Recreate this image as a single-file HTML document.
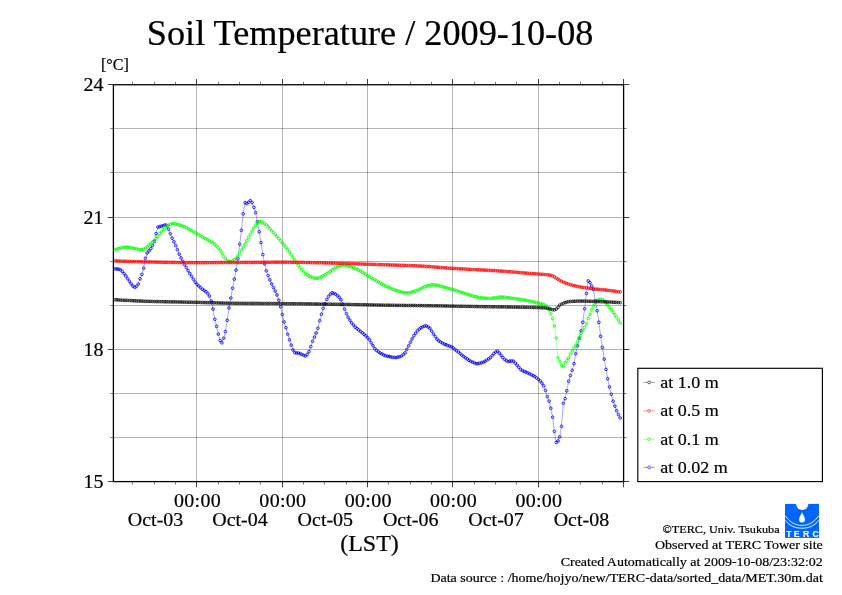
<!DOCTYPE html>
<html lang="en">
<head>
<meta charset="utf-8">
<title>Soil Temperature / 2009-10-08</title>
<style>
html, body { margin: 0; padding: 0; background: #fff; }
body { width: 842px; height: 595px; overflow: hidden; }
svg { display: block; font-family: "Liberation Serif", serif; fill: #000; }
svg text { stroke: #000; stroke-width: 0.22px; }
</style>
</head>
<body>
<svg width="842" height="595" viewBox="0 0 842 595">
<rect x="0" y="0" width="842" height="595" fill="#fff"/>
<g stroke="#000" stroke-opacity="0.29" stroke-width="1" shape-rendering="crispEdges">
<line x1="196.5" y1="84.75" x2="196.5" y2="481.6"/>
<line x1="282.5" y1="84.75" x2="282.5" y2="481.6"/>
<line x1="367.5" y1="84.75" x2="367.5" y2="481.6"/>
<line x1="452.5" y1="84.75" x2="452.5" y2="481.6"/>
<line x1="538.5" y1="84.75" x2="538.5" y2="481.6"/>
<line x1="113.4" y1="437.5" x2="623.6" y2="437.5"/>
<line x1="113.4" y1="393.5" x2="623.6" y2="393.5"/>
<line x1="113.4" y1="349.5" x2="623.6" y2="349.5"/>
<line x1="113.4" y1="305.5" x2="623.6" y2="305.5"/>
<line x1="113.4" y1="261.5" x2="623.6" y2="261.5"/>
<line x1="113.4" y1="217.5" x2="623.6" y2="217.5"/>
<line x1="113.4" y1="172.5" x2="623.6" y2="172.5"/>
<line x1="113.4" y1="128.5" x2="623.6" y2="128.5"/>
</g>
<g stroke="#000" stroke-width="0.75">
<line x1="132.5" y1="84.75" x2="132.5" y2="81.75" stroke-width="0.5"/>
<line x1="132.5" y1="481.6" x2="132.5" y2="484.6" stroke-width="0.5"/>
<line x1="154.5" y1="84.75" x2="154.5" y2="81.75" stroke-width="0.5"/>
<line x1="154.5" y1="481.6" x2="154.5" y2="484.6" stroke-width="0.5"/>
<line x1="175.5" y1="84.75" x2="175.5" y2="81.75" stroke-width="0.5"/>
<line x1="175.5" y1="481.6" x2="175.5" y2="484.6" stroke-width="0.5"/>
<line x1="196.5" y1="84.75" x2="196.5" y2="79.05"/>
<line x1="196.5" y1="481.6" x2="196.5" y2="487.3"/>
<line x1="218.5" y1="84.75" x2="218.5" y2="81.75" stroke-width="0.5"/>
<line x1="218.5" y1="481.6" x2="218.5" y2="484.6" stroke-width="0.5"/>
<line x1="239.5" y1="84.75" x2="239.5" y2="81.75" stroke-width="0.5"/>
<line x1="239.5" y1="481.6" x2="239.5" y2="484.6" stroke-width="0.5"/>
<line x1="260.5" y1="84.75" x2="260.5" y2="81.75" stroke-width="0.5"/>
<line x1="260.5" y1="481.6" x2="260.5" y2="484.6" stroke-width="0.5"/>
<line x1="282.5" y1="84.75" x2="282.5" y2="79.05"/>
<line x1="282.5" y1="481.6" x2="282.5" y2="487.3"/>
<line x1="303.5" y1="84.75" x2="303.5" y2="81.75" stroke-width="0.5"/>
<line x1="303.5" y1="481.6" x2="303.5" y2="484.6" stroke-width="0.5"/>
<line x1="324.5" y1="84.75" x2="324.5" y2="81.75" stroke-width="0.5"/>
<line x1="324.5" y1="481.6" x2="324.5" y2="484.6" stroke-width="0.5"/>
<line x1="346.5" y1="84.75" x2="346.5" y2="81.75" stroke-width="0.5"/>
<line x1="346.5" y1="481.6" x2="346.5" y2="484.6" stroke-width="0.5"/>
<line x1="367.5" y1="84.75" x2="367.5" y2="79.05"/>
<line x1="367.5" y1="481.6" x2="367.5" y2="487.3"/>
<line x1="388.5" y1="84.75" x2="388.5" y2="81.75" stroke-width="0.5"/>
<line x1="388.5" y1="481.6" x2="388.5" y2="484.6" stroke-width="0.5"/>
<line x1="410.5" y1="84.75" x2="410.5" y2="81.75" stroke-width="0.5"/>
<line x1="410.5" y1="481.6" x2="410.5" y2="484.6" stroke-width="0.5"/>
<line x1="431.5" y1="84.75" x2="431.5" y2="81.75" stroke-width="0.5"/>
<line x1="431.5" y1="481.6" x2="431.5" y2="484.6" stroke-width="0.5"/>
<line x1="452.5" y1="84.75" x2="452.5" y2="79.05"/>
<line x1="452.5" y1="481.6" x2="452.5" y2="487.3"/>
<line x1="474.5" y1="84.75" x2="474.5" y2="81.75" stroke-width="0.5"/>
<line x1="474.5" y1="481.6" x2="474.5" y2="484.6" stroke-width="0.5"/>
<line x1="495.5" y1="84.75" x2="495.5" y2="81.75" stroke-width="0.5"/>
<line x1="495.5" y1="481.6" x2="495.5" y2="484.6" stroke-width="0.5"/>
<line x1="516.5" y1="84.75" x2="516.5" y2="81.75" stroke-width="0.5"/>
<line x1="516.5" y1="481.6" x2="516.5" y2="484.6" stroke-width="0.5"/>
<line x1="538.5" y1="84.75" x2="538.5" y2="79.05"/>
<line x1="538.5" y1="481.6" x2="538.5" y2="487.3"/>
<line x1="559.5" y1="84.75" x2="559.5" y2="81.75" stroke-width="0.5"/>
<line x1="559.5" y1="481.6" x2="559.5" y2="484.6" stroke-width="0.5"/>
<line x1="580.5" y1="84.75" x2="580.5" y2="81.75" stroke-width="0.5"/>
<line x1="580.5" y1="481.6" x2="580.5" y2="484.6" stroke-width="0.5"/>
<line x1="602.5" y1="84.75" x2="602.5" y2="81.75" stroke-width="0.5"/>
<line x1="602.5" y1="481.6" x2="602.5" y2="484.6" stroke-width="0.5"/>
<line x1="623.5" y1="84.75" x2="623.5" y2="79.05"/>
<line x1="623.5" y1="481.6" x2="623.5" y2="487.3"/>
<line x1="113.4" y1="481.5" x2="107.7" y2="481.5"/>
<line x1="623.6" y1="481.5" x2="629.3000000000001" y2="481.5"/>
<line x1="113.4" y1="437.5" x2="110.4" y2="437.5" stroke-width="0.5"/>
<line x1="623.6" y1="437.5" x2="626.6" y2="437.5" stroke-width="0.5"/>
<line x1="113.4" y1="393.5" x2="110.4" y2="393.5" stroke-width="0.5"/>
<line x1="623.6" y1="393.5" x2="626.6" y2="393.5" stroke-width="0.5"/>
<line x1="113.4" y1="349.5" x2="107.7" y2="349.5"/>
<line x1="623.6" y1="349.5" x2="629.3000000000001" y2="349.5"/>
<line x1="113.4" y1="305.5" x2="110.4" y2="305.5" stroke-width="0.5"/>
<line x1="623.6" y1="305.5" x2="626.6" y2="305.5" stroke-width="0.5"/>
<line x1="113.4" y1="261.5" x2="110.4" y2="261.5" stroke-width="0.5"/>
<line x1="623.6" y1="261.5" x2="626.6" y2="261.5" stroke-width="0.5"/>
<line x1="113.4" y1="217.5" x2="107.7" y2="217.5"/>
<line x1="623.6" y1="217.5" x2="629.3000000000001" y2="217.5"/>
<line x1="113.4" y1="172.5" x2="110.4" y2="172.5" stroke-width="0.5"/>
<line x1="623.6" y1="172.5" x2="626.6" y2="172.5" stroke-width="0.5"/>
<line x1="113.4" y1="128.5" x2="110.4" y2="128.5" stroke-width="0.5"/>
<line x1="623.6" y1="128.5" x2="626.6" y2="128.5" stroke-width="0.5"/>
<line x1="113.4" y1="84.5" x2="107.7" y2="84.5"/>
<line x1="623.6" y1="84.5" x2="629.3000000000001" y2="84.5"/>
</g>
<g stroke="#0000ff" fill="none">
<polyline points="115.2,268.9 117.0,269.0 118.8,269.2 120.5,269.8 122.3,271.5 124.1,273.6 125.9,276.0 127.6,278.6 129.4,281.2 131.2,283.9 133.0,286.1 134.8,287.5 136.5,286.3 138.3,284.1 140.1,278.8 141.9,274.4 143.7,268.3 145.4,258.2 147.2,253.0 149.0,250.9 150.8,248.7 152.5,245.5 154.3,241.5 156.1,233.6 157.9,227.1 159.7,226.6 161.4,226.2 163.2,225.7 165.0,225.0 166.8,225.4 168.5,229.2 170.3,233.7 172.1,238.2 173.9,241.9 175.7,245.6 177.4,249.7 179.2,254.1 181.0,257.9 182.8,261.4 184.5,264.6 186.3,267.6 188.1,270.7 189.9,273.6 191.7,276.4 193.4,279.3 195.2,282.2 197.0,284.4 198.8,286.0 200.6,287.7 202.3,289.2 204.1,290.4 205.9,291.6 207.7,293.4 209.4,296.1 211.2,301.0 213.0,309.0 214.8,319.3 216.6,326.4 218.3,334.1 220.1,340.5 221.9,342.8 223.7,338.2 225.4,331.6 227.2,320.2 229.0,307.9 230.8,298.0 232.6,288.2 234.3,279.1 236.1,270.1 237.9,258.7 239.7,244.3 241.4,230.3 243.2,213.8 245.0,202.6 246.8,203.7 248.6,202.2 250.3,200.6 252.1,202.6 253.9,207.3 255.7,212.6 257.4,221.8 259.2,231.8 261.0,242.6 262.8,254.6 264.6,263.7 266.3,270.8 268.1,275.6 269.9,279.9 271.7,284.0 273.5,287.6 275.2,291.1 277.0,294.9 278.8,300.2 280.6,306.8 282.3,314.5 284.1,322.0 285.9,327.7 287.7,334.2 289.5,339.8 291.2,345.1 293.0,350.0 294.8,352.7 296.6,353.0 298.3,353.0 300.1,353.6 301.9,354.5 303.7,355.3 305.5,356.1 307.2,354.4 309.0,351.6 310.8,346.6 312.6,341.3 314.4,337.1 316.1,333.0 317.9,328.2 319.7,320.7 321.5,314.2 323.2,308.4 325.0,304.0 326.8,299.5 328.6,296.4 330.4,294.1 332.1,292.8 333.9,293.4 335.7,294.2 337.5,295.7 339.2,297.3 341.0,299.9 342.8,304.3 344.6,309.2 346.4,313.6 348.1,317.2 349.9,320.2 351.7,322.9 353.5,325.1 355.2,327.2 357.0,328.6 358.8,330.0 360.6,331.5 362.4,332.9 364.1,334.3 365.9,335.9 367.7,337.7 369.5,339.8 371.2,342.8 373.0,345.7 374.8,348.7 376.6,350.3 378.4,351.9 380.1,353.0 381.9,354.0 383.7,354.9 385.5,355.7 387.3,356.1 389.0,356.5 390.8,356.9 392.6,357.3 394.4,357.4 396.1,357.6 397.9,357.1 399.7,356.7 401.5,356.0 403.3,354.5 405.0,352.9 406.8,349.4 408.6,345.8 410.4,342.3 412.1,338.9 413.9,335.7 415.7,333.2 417.5,330.7 419.3,329.1 421.0,327.7 422.8,326.7 424.6,326.1 426.4,325.8 428.1,327.0 429.9,328.2 431.7,331.1 433.5,334.1 435.3,336.7 437.0,339.1 438.8,340.9 440.6,342.0 442.4,343.0 444.2,344.1 445.9,344.7 447.7,345.4 449.5,346.1 451.3,346.7 453.0,347.8 454.8,349.3 456.6,350.7 458.4,352.1 460.2,353.6 461.9,355.1 463.7,356.5 465.5,357.8 467.3,359.0 469.0,360.3 470.8,361.4 472.6,362.1 474.4,362.9 476.2,363.6 477.9,363.7 479.7,363.2 481.5,362.7 483.3,362.2 485.0,361.3 486.8,360.1 488.6,358.9 490.4,357.6 492.2,355.6 493.9,353.6 495.7,352.0 497.5,351.1 499.3,353.1 501.1,355.3 502.8,357.5 504.6,359.4 506.4,360.6 508.2,361.6 509.9,361.2 511.7,360.9 513.5,361.2 515.3,363.1 517.1,365.1 518.8,367.3 520.6,369.5 522.4,370.6 524.2,371.4 525.9,372.1 527.7,372.9 529.5,373.8 531.3,374.7 533.1,375.6 534.8,376.5 536.6,377.9 538.4,379.4 540.2,380.9 542.0,383.1 543.7,385.9 545.5,390.4 547.3,396.7 549.1,401.2 550.8,408.2 552.6,417.2 554.4,431.3 556.2,442.5 558.0,441.0 559.7,436.9 561.5,426.3 563.3,403.2 565.1,398.7 566.8,390.8 568.6,381.3 570.4,375.5 572.2,370.3 574.0,363.7 575.7,353.7 577.5,345.8 579.3,338.4 581.1,330.9 582.8,322.2 584.6,308.8 586.4,293.5 588.2,280.9 590.0,282.6 591.7,286.1 593.5,289.5 595.3,300.9 597.1,310.8 598.9,322.3 600.6,336.2 602.4,347.4 604.2,359.1 606.0,369.4 607.7,378.7 609.5,386.9 611.3,394.4 613.1,401.2 614.9,406.1 616.6,410.7 618.4,414.6 620.2,418.0" stroke-width="0.35"/>
<g stroke-width="0.8">
<circle cx="115.2" cy="268.9" r="1.35"/><circle cx="117.0" cy="269.0" r="1.35"/><circle cx="118.8" cy="269.2" r="1.35"/><circle cx="120.5" cy="269.8" r="1.35"/><circle cx="122.3" cy="271.5" r="1.35"/><circle cx="124.1" cy="273.6" r="1.35"/><circle cx="125.9" cy="276.0" r="1.35"/><circle cx="127.6" cy="278.6" r="1.35"/><circle cx="129.4" cy="281.2" r="1.35"/><circle cx="131.2" cy="283.9" r="1.35"/><circle cx="133.0" cy="286.1" r="1.35"/><circle cx="134.8" cy="287.5" r="1.35"/><circle cx="136.5" cy="286.3" r="1.35"/><circle cx="138.3" cy="284.1" r="1.35"/><circle cx="140.1" cy="278.8" r="1.35"/><circle cx="141.9" cy="274.4" r="1.35"/><circle cx="143.7" cy="268.3" r="1.35"/><circle cx="145.4" cy="258.2" r="1.35"/><circle cx="147.2" cy="253.0" r="1.35"/><circle cx="149.0" cy="250.9" r="1.35"/><circle cx="150.8" cy="248.7" r="1.35"/><circle cx="152.5" cy="245.5" r="1.35"/><circle cx="154.3" cy="241.5" r="1.35"/><circle cx="156.1" cy="233.6" r="1.35"/><circle cx="157.9" cy="227.1" r="1.35"/><circle cx="159.7" cy="226.6" r="1.35"/><circle cx="161.4" cy="226.2" r="1.35"/><circle cx="163.2" cy="225.7" r="1.35"/><circle cx="165.0" cy="225.0" r="1.35"/><circle cx="166.8" cy="225.4" r="1.35"/><circle cx="168.5" cy="229.2" r="1.35"/><circle cx="170.3" cy="233.7" r="1.35"/><circle cx="172.1" cy="238.2" r="1.35"/><circle cx="173.9" cy="241.9" r="1.35"/><circle cx="175.7" cy="245.6" r="1.35"/><circle cx="177.4" cy="249.7" r="1.35"/><circle cx="179.2" cy="254.1" r="1.35"/><circle cx="181.0" cy="257.9" r="1.35"/><circle cx="182.8" cy="261.4" r="1.35"/><circle cx="184.5" cy="264.6" r="1.35"/><circle cx="186.3" cy="267.6" r="1.35"/><circle cx="188.1" cy="270.7" r="1.35"/><circle cx="189.9" cy="273.6" r="1.35"/><circle cx="191.7" cy="276.4" r="1.35"/><circle cx="193.4" cy="279.3" r="1.35"/><circle cx="195.2" cy="282.2" r="1.35"/><circle cx="197.0" cy="284.4" r="1.35"/><circle cx="198.8" cy="286.0" r="1.35"/><circle cx="200.6" cy="287.7" r="1.35"/><circle cx="202.3" cy="289.2" r="1.35"/><circle cx="204.1" cy="290.4" r="1.35"/><circle cx="205.9" cy="291.6" r="1.35"/><circle cx="207.7" cy="293.4" r="1.35"/><circle cx="209.4" cy="296.1" r="1.35"/><circle cx="211.2" cy="301.0" r="1.35"/><circle cx="213.0" cy="309.0" r="1.35"/><circle cx="214.8" cy="319.3" r="1.35"/><circle cx="216.6" cy="326.4" r="1.35"/><circle cx="218.3" cy="334.1" r="1.35"/><circle cx="220.1" cy="340.5" r="1.35"/><circle cx="221.9" cy="342.8" r="1.35"/><circle cx="223.7" cy="338.2" r="1.35"/><circle cx="225.4" cy="331.6" r="1.35"/><circle cx="227.2" cy="320.2" r="1.35"/><circle cx="229.0" cy="307.9" r="1.35"/><circle cx="230.8" cy="298.0" r="1.35"/><circle cx="232.6" cy="288.2" r="1.35"/><circle cx="234.3" cy="279.1" r="1.35"/><circle cx="236.1" cy="270.1" r="1.35"/><circle cx="237.9" cy="258.7" r="1.35"/><circle cx="239.7" cy="244.3" r="1.35"/><circle cx="241.4" cy="230.3" r="1.35"/><circle cx="243.2" cy="213.8" r="1.35"/><circle cx="245.0" cy="202.6" r="1.35"/><circle cx="246.8" cy="203.7" r="1.35"/><circle cx="248.6" cy="202.2" r="1.35"/><circle cx="250.3" cy="200.6" r="1.35"/><circle cx="252.1" cy="202.6" r="1.35"/><circle cx="253.9" cy="207.3" r="1.35"/><circle cx="255.7" cy="212.6" r="1.35"/><circle cx="257.4" cy="221.8" r="1.35"/><circle cx="259.2" cy="231.8" r="1.35"/><circle cx="261.0" cy="242.6" r="1.35"/><circle cx="262.8" cy="254.6" r="1.35"/><circle cx="264.6" cy="263.7" r="1.35"/><circle cx="266.3" cy="270.8" r="1.35"/><circle cx="268.1" cy="275.6" r="1.35"/><circle cx="269.9" cy="279.9" r="1.35"/><circle cx="271.7" cy="284.0" r="1.35"/><circle cx="273.5" cy="287.6" r="1.35"/><circle cx="275.2" cy="291.1" r="1.35"/><circle cx="277.0" cy="294.9" r="1.35"/><circle cx="278.8" cy="300.2" r="1.35"/><circle cx="280.6" cy="306.8" r="1.35"/><circle cx="282.3" cy="314.5" r="1.35"/><circle cx="284.1" cy="322.0" r="1.35"/><circle cx="285.9" cy="327.7" r="1.35"/><circle cx="287.7" cy="334.2" r="1.35"/><circle cx="289.5" cy="339.8" r="1.35"/><circle cx="291.2" cy="345.1" r="1.35"/><circle cx="293.0" cy="350.0" r="1.35"/><circle cx="294.8" cy="352.7" r="1.35"/><circle cx="296.6" cy="353.0" r="1.35"/><circle cx="298.3" cy="353.0" r="1.35"/><circle cx="300.1" cy="353.6" r="1.35"/><circle cx="301.9" cy="354.5" r="1.35"/><circle cx="303.7" cy="355.3" r="1.35"/><circle cx="305.5" cy="356.1" r="1.35"/><circle cx="307.2" cy="354.4" r="1.35"/><circle cx="309.0" cy="351.6" r="1.35"/><circle cx="310.8" cy="346.6" r="1.35"/><circle cx="312.6" cy="341.3" r="1.35"/><circle cx="314.4" cy="337.1" r="1.35"/><circle cx="316.1" cy="333.0" r="1.35"/><circle cx="317.9" cy="328.2" r="1.35"/><circle cx="319.7" cy="320.7" r="1.35"/><circle cx="321.5" cy="314.2" r="1.35"/><circle cx="323.2" cy="308.4" r="1.35"/><circle cx="325.0" cy="304.0" r="1.35"/><circle cx="326.8" cy="299.5" r="1.35"/><circle cx="328.6" cy="296.4" r="1.35"/><circle cx="330.4" cy="294.1" r="1.35"/><circle cx="332.1" cy="292.8" r="1.35"/><circle cx="333.9" cy="293.4" r="1.35"/><circle cx="335.7" cy="294.2" r="1.35"/><circle cx="337.5" cy="295.7" r="1.35"/><circle cx="339.2" cy="297.3" r="1.35"/><circle cx="341.0" cy="299.9" r="1.35"/><circle cx="342.8" cy="304.3" r="1.35"/><circle cx="344.6" cy="309.2" r="1.35"/><circle cx="346.4" cy="313.6" r="1.35"/><circle cx="348.1" cy="317.2" r="1.35"/><circle cx="349.9" cy="320.2" r="1.35"/><circle cx="351.7" cy="322.9" r="1.35"/><circle cx="353.5" cy="325.1" r="1.35"/><circle cx="355.2" cy="327.2" r="1.35"/><circle cx="357.0" cy="328.6" r="1.35"/><circle cx="358.8" cy="330.0" r="1.35"/><circle cx="360.6" cy="331.5" r="1.35"/><circle cx="362.4" cy="332.9" r="1.35"/><circle cx="364.1" cy="334.3" r="1.35"/><circle cx="365.9" cy="335.9" r="1.35"/><circle cx="367.7" cy="337.7" r="1.35"/><circle cx="369.5" cy="339.8" r="1.35"/><circle cx="371.2" cy="342.8" r="1.35"/><circle cx="373.0" cy="345.7" r="1.35"/><circle cx="374.8" cy="348.7" r="1.35"/><circle cx="376.6" cy="350.3" r="1.35"/><circle cx="378.4" cy="351.9" r="1.35"/><circle cx="380.1" cy="353.0" r="1.35"/><circle cx="381.9" cy="354.0" r="1.35"/><circle cx="383.7" cy="354.9" r="1.35"/><circle cx="385.5" cy="355.7" r="1.35"/><circle cx="387.3" cy="356.1" r="1.35"/><circle cx="389.0" cy="356.5" r="1.35"/><circle cx="390.8" cy="356.9" r="1.35"/><circle cx="392.6" cy="357.3" r="1.35"/><circle cx="394.4" cy="357.4" r="1.35"/><circle cx="396.1" cy="357.6" r="1.35"/><circle cx="397.9" cy="357.1" r="1.35"/><circle cx="399.7" cy="356.7" r="1.35"/><circle cx="401.5" cy="356.0" r="1.35"/><circle cx="403.3" cy="354.5" r="1.35"/><circle cx="405.0" cy="352.9" r="1.35"/><circle cx="406.8" cy="349.4" r="1.35"/><circle cx="408.6" cy="345.8" r="1.35"/><circle cx="410.4" cy="342.3" r="1.35"/><circle cx="412.1" cy="338.9" r="1.35"/><circle cx="413.9" cy="335.7" r="1.35"/><circle cx="415.7" cy="333.2" r="1.35"/><circle cx="417.5" cy="330.7" r="1.35"/><circle cx="419.3" cy="329.1" r="1.35"/><circle cx="421.0" cy="327.7" r="1.35"/><circle cx="422.8" cy="326.7" r="1.35"/><circle cx="424.6" cy="326.1" r="1.35"/><circle cx="426.4" cy="325.8" r="1.35"/><circle cx="428.1" cy="327.0" r="1.35"/><circle cx="429.9" cy="328.2" r="1.35"/><circle cx="431.7" cy="331.1" r="1.35"/><circle cx="433.5" cy="334.1" r="1.35"/><circle cx="435.3" cy="336.7" r="1.35"/><circle cx="437.0" cy="339.1" r="1.35"/><circle cx="438.8" cy="340.9" r="1.35"/><circle cx="440.6" cy="342.0" r="1.35"/><circle cx="442.4" cy="343.0" r="1.35"/><circle cx="444.2" cy="344.1" r="1.35"/><circle cx="445.9" cy="344.7" r="1.35"/><circle cx="447.7" cy="345.4" r="1.35"/><circle cx="449.5" cy="346.1" r="1.35"/><circle cx="451.3" cy="346.7" r="1.35"/><circle cx="453.0" cy="347.8" r="1.35"/><circle cx="454.8" cy="349.3" r="1.35"/><circle cx="456.6" cy="350.7" r="1.35"/><circle cx="458.4" cy="352.1" r="1.35"/><circle cx="460.2" cy="353.6" r="1.35"/><circle cx="461.9" cy="355.1" r="1.35"/><circle cx="463.7" cy="356.5" r="1.35"/><circle cx="465.5" cy="357.8" r="1.35"/><circle cx="467.3" cy="359.0" r="1.35"/><circle cx="469.0" cy="360.3" r="1.35"/><circle cx="470.8" cy="361.4" r="1.35"/><circle cx="472.6" cy="362.1" r="1.35"/><circle cx="474.4" cy="362.9" r="1.35"/><circle cx="476.2" cy="363.6" r="1.35"/><circle cx="477.9" cy="363.7" r="1.35"/><circle cx="479.7" cy="363.2" r="1.35"/><circle cx="481.5" cy="362.7" r="1.35"/><circle cx="483.3" cy="362.2" r="1.35"/><circle cx="485.0" cy="361.3" r="1.35"/><circle cx="486.8" cy="360.1" r="1.35"/><circle cx="488.6" cy="358.9" r="1.35"/><circle cx="490.4" cy="357.6" r="1.35"/><circle cx="492.2" cy="355.6" r="1.35"/><circle cx="493.9" cy="353.6" r="1.35"/><circle cx="495.7" cy="352.0" r="1.35"/><circle cx="497.5" cy="351.1" r="1.35"/><circle cx="499.3" cy="353.1" r="1.35"/><circle cx="501.1" cy="355.3" r="1.35"/><circle cx="502.8" cy="357.5" r="1.35"/><circle cx="504.6" cy="359.4" r="1.35"/><circle cx="506.4" cy="360.6" r="1.35"/><circle cx="508.2" cy="361.6" r="1.35"/><circle cx="509.9" cy="361.2" r="1.35"/><circle cx="511.7" cy="360.9" r="1.35"/><circle cx="513.5" cy="361.2" r="1.35"/><circle cx="515.3" cy="363.1" r="1.35"/><circle cx="517.1" cy="365.1" r="1.35"/><circle cx="518.8" cy="367.3" r="1.35"/><circle cx="520.6" cy="369.5" r="1.35"/><circle cx="522.4" cy="370.6" r="1.35"/><circle cx="524.2" cy="371.4" r="1.35"/><circle cx="525.9" cy="372.1" r="1.35"/><circle cx="527.7" cy="372.9" r="1.35"/><circle cx="529.5" cy="373.8" r="1.35"/><circle cx="531.3" cy="374.7" r="1.35"/><circle cx="533.1" cy="375.6" r="1.35"/><circle cx="534.8" cy="376.5" r="1.35"/><circle cx="536.6" cy="377.9" r="1.35"/><circle cx="538.4" cy="379.4" r="1.35"/><circle cx="540.2" cy="380.9" r="1.35"/><circle cx="542.0" cy="383.1" r="1.35"/><circle cx="543.7" cy="385.9" r="1.35"/><circle cx="545.5" cy="390.4" r="1.35"/><circle cx="547.3" cy="396.7" r="1.35"/><circle cx="549.1" cy="401.2" r="1.35"/><circle cx="550.8" cy="408.2" r="1.35"/><circle cx="552.6" cy="417.2" r="1.35"/><circle cx="554.4" cy="431.3" r="1.35"/><circle cx="556.2" cy="442.5" r="1.35"/><circle cx="558.0" cy="441.0" r="1.35"/><circle cx="559.7" cy="436.9" r="1.35"/><circle cx="561.5" cy="426.3" r="1.35"/><circle cx="563.3" cy="403.2" r="1.35"/><circle cx="565.1" cy="398.7" r="1.35"/><circle cx="566.8" cy="390.8" r="1.35"/><circle cx="568.6" cy="381.3" r="1.35"/><circle cx="570.4" cy="375.5" r="1.35"/><circle cx="572.2" cy="370.3" r="1.35"/><circle cx="574.0" cy="363.7" r="1.35"/><circle cx="575.7" cy="353.7" r="1.35"/><circle cx="577.5" cy="345.8" r="1.35"/><circle cx="579.3" cy="338.4" r="1.35"/><circle cx="581.1" cy="330.9" r="1.35"/><circle cx="582.8" cy="322.2" r="1.35"/><circle cx="584.6" cy="308.8" r="1.35"/><circle cx="586.4" cy="293.5" r="1.35"/><circle cx="588.2" cy="280.9" r="1.35"/><circle cx="590.0" cy="282.6" r="1.35"/><circle cx="591.7" cy="286.1" r="1.35"/><circle cx="593.5" cy="289.5" r="1.35"/><circle cx="595.3" cy="300.9" r="1.35"/><circle cx="597.1" cy="310.8" r="1.35"/><circle cx="598.9" cy="322.3" r="1.35"/><circle cx="600.6" cy="336.2" r="1.35"/><circle cx="602.4" cy="347.4" r="1.35"/><circle cx="604.2" cy="359.1" r="1.35"/><circle cx="606.0" cy="369.4" r="1.35"/><circle cx="607.7" cy="378.7" r="1.35"/><circle cx="609.5" cy="386.9" r="1.35"/><circle cx="611.3" cy="394.4" r="1.35"/><circle cx="613.1" cy="401.2" r="1.35"/><circle cx="614.9" cy="406.1" r="1.35"/><circle cx="616.6" cy="410.7" r="1.35"/><circle cx="618.4" cy="414.6" r="1.35"/><circle cx="620.2" cy="418.0" r="1.35"/>
</g></g>
<g stroke="#00ff00" fill="none">
<polyline points="115.2,249.6 117.0,249.0 118.8,248.5 120.5,248.1 122.3,247.7 124.1,247.4 125.9,247.1 127.6,247.1 129.4,247.3 131.2,247.7 133.0,248.1 134.8,248.5 136.5,248.9 138.3,249.4 140.1,249.7 141.9,249.8 143.7,249.2 145.4,248.2 147.2,246.9 149.0,245.2 150.8,243.6 152.5,242.1 154.3,240.6 156.1,238.7 157.9,236.3 159.7,233.8 161.4,231.7 163.2,229.6 165.0,227.8 166.8,226.3 168.5,225.2 170.3,224.3 172.1,223.7 173.9,223.6 175.7,223.9 177.4,224.3 179.2,224.9 181.0,225.4 182.8,226.1 184.5,226.8 186.3,227.7 188.1,228.7 189.9,229.7 191.7,230.7 193.4,231.7 195.2,232.7 197.0,233.7 198.8,234.7 200.6,235.8 202.3,236.9 204.1,237.9 205.9,238.9 207.7,239.8 209.4,240.8 211.2,241.8 213.0,242.9 214.8,244.3 216.6,245.9 218.3,247.8 220.1,250.1 221.9,253.3 223.7,256.4 225.4,258.5 227.2,260.4 229.0,261.4 230.8,261.4 232.6,261.1 234.3,259.8 236.1,258.2 237.9,256.1 239.7,253.3 241.4,250.1 243.2,247.1 245.0,244.0 246.8,240.8 248.6,237.6 250.3,234.4 252.1,231.1 253.9,228.0 255.7,225.4 257.4,223.3 259.2,221.8 261.0,221.7 262.8,222.6 264.6,223.7 266.3,225.0 268.1,226.7 269.9,228.7 271.7,230.7 273.5,232.6 275.2,234.5 277.0,236.5 278.8,238.6 280.6,240.7 282.3,242.8 284.1,245.0 285.9,247.2 287.7,249.6 289.5,252.1 291.2,254.8 293.0,257.5 294.8,260.2 296.6,262.8 298.3,265.4 300.1,267.8 301.9,269.9 303.7,271.7 305.5,273.5 307.2,274.9 309.0,276.0 310.8,276.8 312.6,277.6 314.4,278.1 316.1,278.4 317.9,278.2 319.7,277.6 321.5,276.7 323.2,275.9 325.0,274.9 326.8,273.7 328.6,272.5 330.4,271.3 332.1,270.0 333.9,268.7 335.7,267.5 337.5,266.6 339.2,266.0 341.0,265.4 342.8,265.1 344.6,265.0 346.4,265.3 348.1,265.7 349.9,266.3 351.7,266.9 353.5,267.6 355.2,268.4 357.0,269.3 358.8,270.3 360.6,271.3 362.4,272.3 364.1,273.4 365.9,274.5 367.7,275.6 369.5,276.7 371.2,277.8 373.0,278.9 374.8,279.9 376.6,281.0 378.4,282.1 380.1,283.1 381.9,284.0 383.7,285.0 385.5,285.9 387.3,286.8 389.0,287.6 390.8,288.3 392.6,289.1 394.4,289.8 396.1,290.4 397.9,291.0 399.7,291.5 401.5,292.0 403.3,292.5 405.0,292.8 406.8,293.0 408.6,292.9 410.4,292.6 412.1,292.1 413.9,291.5 415.7,290.8 417.5,290.2 419.3,289.5 421.0,288.6 422.8,287.7 424.6,286.8 426.4,286.2 428.1,285.7 429.9,285.2 431.7,284.9 433.5,284.8 435.3,285.0 437.0,285.3 438.8,285.7 440.6,286.2 442.4,286.6 444.2,287.1 445.9,287.5 447.7,288.1 449.5,288.6 451.3,289.1 453.0,289.7 454.8,290.2 456.6,290.8 458.4,291.4 460.2,292.0 461.9,292.6 463.7,293.2 465.5,293.7 467.3,294.3 469.0,294.8 470.8,295.3 472.6,295.9 474.4,296.4 476.2,296.9 477.9,297.3 479.7,297.6 481.5,297.8 483.3,298.0 485.0,298.2 486.8,298.3 488.6,298.4 490.4,298.4 492.2,298.3 493.9,298.0 495.7,297.7 497.5,297.3 499.3,297.1 501.1,297.0 502.8,297.1 504.6,297.2 506.4,297.5 508.2,297.7 509.9,298.0 511.7,298.2 513.5,298.4 515.3,298.7 517.1,298.9 518.8,299.2 520.6,299.5 522.4,299.7 524.2,300.0 525.9,300.3 527.7,300.7 529.5,301.0 531.3,301.4 533.1,301.8 534.8,302.2 536.6,302.7 538.4,303.2 540.2,303.6 542.0,304.0 543.7,304.5 545.5,305.5 547.3,307.3 549.1,310.0 550.8,313.8 552.6,318.6 554.4,326.0 556.2,338.0 558.0,357.8 559.7,361.5 561.5,365.4 563.3,366.6 565.1,362.9 566.8,360.6 568.6,357.9 570.4,354.2 572.2,351.0 574.0,348.1 575.7,345.3 577.5,341.9 579.3,337.2 581.1,333.4 582.8,330.3 584.6,327.3 586.4,323.6 588.2,318.3 590.0,314.4 591.7,309.8 593.5,305.8 595.3,302.6 597.1,300.3 598.9,299.5 600.6,299.3 602.4,299.6 604.2,300.7 606.0,302.9 607.7,305.1 609.5,307.4 611.3,309.8 613.1,312.3 614.9,314.8 616.6,317.4 618.4,320.2 620.2,323.1" stroke-width="0.35"/>
<g stroke-width="0.8">
<circle cx="115.2" cy="249.6" r="1.35"/><circle cx="117.0" cy="249.0" r="1.35"/><circle cx="118.8" cy="248.5" r="1.35"/><circle cx="120.5" cy="248.1" r="1.35"/><circle cx="122.3" cy="247.7" r="1.35"/><circle cx="124.1" cy="247.4" r="1.35"/><circle cx="125.9" cy="247.1" r="1.35"/><circle cx="127.6" cy="247.1" r="1.35"/><circle cx="129.4" cy="247.3" r="1.35"/><circle cx="131.2" cy="247.7" r="1.35"/><circle cx="133.0" cy="248.1" r="1.35"/><circle cx="134.8" cy="248.5" r="1.35"/><circle cx="136.5" cy="248.9" r="1.35"/><circle cx="138.3" cy="249.4" r="1.35"/><circle cx="140.1" cy="249.7" r="1.35"/><circle cx="141.9" cy="249.8" r="1.35"/><circle cx="143.7" cy="249.2" r="1.35"/><circle cx="145.4" cy="248.2" r="1.35"/><circle cx="147.2" cy="246.9" r="1.35"/><circle cx="149.0" cy="245.2" r="1.35"/><circle cx="150.8" cy="243.6" r="1.35"/><circle cx="152.5" cy="242.1" r="1.35"/><circle cx="154.3" cy="240.6" r="1.35"/><circle cx="156.1" cy="238.7" r="1.35"/><circle cx="157.9" cy="236.3" r="1.35"/><circle cx="159.7" cy="233.8" r="1.35"/><circle cx="161.4" cy="231.7" r="1.35"/><circle cx="163.2" cy="229.6" r="1.35"/><circle cx="165.0" cy="227.8" r="1.35"/><circle cx="166.8" cy="226.3" r="1.35"/><circle cx="168.5" cy="225.2" r="1.35"/><circle cx="170.3" cy="224.3" r="1.35"/><circle cx="172.1" cy="223.7" r="1.35"/><circle cx="173.9" cy="223.6" r="1.35"/><circle cx="175.7" cy="223.9" r="1.35"/><circle cx="177.4" cy="224.3" r="1.35"/><circle cx="179.2" cy="224.9" r="1.35"/><circle cx="181.0" cy="225.4" r="1.35"/><circle cx="182.8" cy="226.1" r="1.35"/><circle cx="184.5" cy="226.8" r="1.35"/><circle cx="186.3" cy="227.7" r="1.35"/><circle cx="188.1" cy="228.7" r="1.35"/><circle cx="189.9" cy="229.7" r="1.35"/><circle cx="191.7" cy="230.7" r="1.35"/><circle cx="193.4" cy="231.7" r="1.35"/><circle cx="195.2" cy="232.7" r="1.35"/><circle cx="197.0" cy="233.7" r="1.35"/><circle cx="198.8" cy="234.7" r="1.35"/><circle cx="200.6" cy="235.8" r="1.35"/><circle cx="202.3" cy="236.9" r="1.35"/><circle cx="204.1" cy="237.9" r="1.35"/><circle cx="205.9" cy="238.9" r="1.35"/><circle cx="207.7" cy="239.8" r="1.35"/><circle cx="209.4" cy="240.8" r="1.35"/><circle cx="211.2" cy="241.8" r="1.35"/><circle cx="213.0" cy="242.9" r="1.35"/><circle cx="214.8" cy="244.3" r="1.35"/><circle cx="216.6" cy="245.9" r="1.35"/><circle cx="218.3" cy="247.8" r="1.35"/><circle cx="220.1" cy="250.1" r="1.35"/><circle cx="221.9" cy="253.3" r="1.35"/><circle cx="223.7" cy="256.4" r="1.35"/><circle cx="225.4" cy="258.5" r="1.35"/><circle cx="227.2" cy="260.4" r="1.35"/><circle cx="229.0" cy="261.4" r="1.35"/><circle cx="230.8" cy="261.4" r="1.35"/><circle cx="232.6" cy="261.1" r="1.35"/><circle cx="234.3" cy="259.8" r="1.35"/><circle cx="236.1" cy="258.2" r="1.35"/><circle cx="237.9" cy="256.1" r="1.35"/><circle cx="239.7" cy="253.3" r="1.35"/><circle cx="241.4" cy="250.1" r="1.35"/><circle cx="243.2" cy="247.1" r="1.35"/><circle cx="245.0" cy="244.0" r="1.35"/><circle cx="246.8" cy="240.8" r="1.35"/><circle cx="248.6" cy="237.6" r="1.35"/><circle cx="250.3" cy="234.4" r="1.35"/><circle cx="252.1" cy="231.1" r="1.35"/><circle cx="253.9" cy="228.0" r="1.35"/><circle cx="255.7" cy="225.4" r="1.35"/><circle cx="257.4" cy="223.3" r="1.35"/><circle cx="259.2" cy="221.8" r="1.35"/><circle cx="261.0" cy="221.7" r="1.35"/><circle cx="262.8" cy="222.6" r="1.35"/><circle cx="264.6" cy="223.7" r="1.35"/><circle cx="266.3" cy="225.0" r="1.35"/><circle cx="268.1" cy="226.7" r="1.35"/><circle cx="269.9" cy="228.7" r="1.35"/><circle cx="271.7" cy="230.7" r="1.35"/><circle cx="273.5" cy="232.6" r="1.35"/><circle cx="275.2" cy="234.5" r="1.35"/><circle cx="277.0" cy="236.5" r="1.35"/><circle cx="278.8" cy="238.6" r="1.35"/><circle cx="280.6" cy="240.7" r="1.35"/><circle cx="282.3" cy="242.8" r="1.35"/><circle cx="284.1" cy="245.0" r="1.35"/><circle cx="285.9" cy="247.2" r="1.35"/><circle cx="287.7" cy="249.6" r="1.35"/><circle cx="289.5" cy="252.1" r="1.35"/><circle cx="291.2" cy="254.8" r="1.35"/><circle cx="293.0" cy="257.5" r="1.35"/><circle cx="294.8" cy="260.2" r="1.35"/><circle cx="296.6" cy="262.8" r="1.35"/><circle cx="298.3" cy="265.4" r="1.35"/><circle cx="300.1" cy="267.8" r="1.35"/><circle cx="301.9" cy="269.9" r="1.35"/><circle cx="303.7" cy="271.7" r="1.35"/><circle cx="305.5" cy="273.5" r="1.35"/><circle cx="307.2" cy="274.9" r="1.35"/><circle cx="309.0" cy="276.0" r="1.35"/><circle cx="310.8" cy="276.8" r="1.35"/><circle cx="312.6" cy="277.6" r="1.35"/><circle cx="314.4" cy="278.1" r="1.35"/><circle cx="316.1" cy="278.4" r="1.35"/><circle cx="317.9" cy="278.2" r="1.35"/><circle cx="319.7" cy="277.6" r="1.35"/><circle cx="321.5" cy="276.7" r="1.35"/><circle cx="323.2" cy="275.9" r="1.35"/><circle cx="325.0" cy="274.9" r="1.35"/><circle cx="326.8" cy="273.7" r="1.35"/><circle cx="328.6" cy="272.5" r="1.35"/><circle cx="330.4" cy="271.3" r="1.35"/><circle cx="332.1" cy="270.0" r="1.35"/><circle cx="333.9" cy="268.7" r="1.35"/><circle cx="335.7" cy="267.5" r="1.35"/><circle cx="337.5" cy="266.6" r="1.35"/><circle cx="339.2" cy="266.0" r="1.35"/><circle cx="341.0" cy="265.4" r="1.35"/><circle cx="342.8" cy="265.1" r="1.35"/><circle cx="344.6" cy="265.0" r="1.35"/><circle cx="346.4" cy="265.3" r="1.35"/><circle cx="348.1" cy="265.7" r="1.35"/><circle cx="349.9" cy="266.3" r="1.35"/><circle cx="351.7" cy="266.9" r="1.35"/><circle cx="353.5" cy="267.6" r="1.35"/><circle cx="355.2" cy="268.4" r="1.35"/><circle cx="357.0" cy="269.3" r="1.35"/><circle cx="358.8" cy="270.3" r="1.35"/><circle cx="360.6" cy="271.3" r="1.35"/><circle cx="362.4" cy="272.3" r="1.35"/><circle cx="364.1" cy="273.4" r="1.35"/><circle cx="365.9" cy="274.5" r="1.35"/><circle cx="367.7" cy="275.6" r="1.35"/><circle cx="369.5" cy="276.7" r="1.35"/><circle cx="371.2" cy="277.8" r="1.35"/><circle cx="373.0" cy="278.9" r="1.35"/><circle cx="374.8" cy="279.9" r="1.35"/><circle cx="376.6" cy="281.0" r="1.35"/><circle cx="378.4" cy="282.1" r="1.35"/><circle cx="380.1" cy="283.1" r="1.35"/><circle cx="381.9" cy="284.0" r="1.35"/><circle cx="383.7" cy="285.0" r="1.35"/><circle cx="385.5" cy="285.9" r="1.35"/><circle cx="387.3" cy="286.8" r="1.35"/><circle cx="389.0" cy="287.6" r="1.35"/><circle cx="390.8" cy="288.3" r="1.35"/><circle cx="392.6" cy="289.1" r="1.35"/><circle cx="394.4" cy="289.8" r="1.35"/><circle cx="396.1" cy="290.4" r="1.35"/><circle cx="397.9" cy="291.0" r="1.35"/><circle cx="399.7" cy="291.5" r="1.35"/><circle cx="401.5" cy="292.0" r="1.35"/><circle cx="403.3" cy="292.5" r="1.35"/><circle cx="405.0" cy="292.8" r="1.35"/><circle cx="406.8" cy="293.0" r="1.35"/><circle cx="408.6" cy="292.9" r="1.35"/><circle cx="410.4" cy="292.6" r="1.35"/><circle cx="412.1" cy="292.1" r="1.35"/><circle cx="413.9" cy="291.5" r="1.35"/><circle cx="415.7" cy="290.8" r="1.35"/><circle cx="417.5" cy="290.2" r="1.35"/><circle cx="419.3" cy="289.5" r="1.35"/><circle cx="421.0" cy="288.6" r="1.35"/><circle cx="422.8" cy="287.7" r="1.35"/><circle cx="424.6" cy="286.8" r="1.35"/><circle cx="426.4" cy="286.2" r="1.35"/><circle cx="428.1" cy="285.7" r="1.35"/><circle cx="429.9" cy="285.2" r="1.35"/><circle cx="431.7" cy="284.9" r="1.35"/><circle cx="433.5" cy="284.8" r="1.35"/><circle cx="435.3" cy="285.0" r="1.35"/><circle cx="437.0" cy="285.3" r="1.35"/><circle cx="438.8" cy="285.7" r="1.35"/><circle cx="440.6" cy="286.2" r="1.35"/><circle cx="442.4" cy="286.6" r="1.35"/><circle cx="444.2" cy="287.1" r="1.35"/><circle cx="445.9" cy="287.5" r="1.35"/><circle cx="447.7" cy="288.1" r="1.35"/><circle cx="449.5" cy="288.6" r="1.35"/><circle cx="451.3" cy="289.1" r="1.35"/><circle cx="453.0" cy="289.7" r="1.35"/><circle cx="454.8" cy="290.2" r="1.35"/><circle cx="456.6" cy="290.8" r="1.35"/><circle cx="458.4" cy="291.4" r="1.35"/><circle cx="460.2" cy="292.0" r="1.35"/><circle cx="461.9" cy="292.6" r="1.35"/><circle cx="463.7" cy="293.2" r="1.35"/><circle cx="465.5" cy="293.7" r="1.35"/><circle cx="467.3" cy="294.3" r="1.35"/><circle cx="469.0" cy="294.8" r="1.35"/><circle cx="470.8" cy="295.3" r="1.35"/><circle cx="472.6" cy="295.9" r="1.35"/><circle cx="474.4" cy="296.4" r="1.35"/><circle cx="476.2" cy="296.9" r="1.35"/><circle cx="477.9" cy="297.3" r="1.35"/><circle cx="479.7" cy="297.6" r="1.35"/><circle cx="481.5" cy="297.8" r="1.35"/><circle cx="483.3" cy="298.0" r="1.35"/><circle cx="485.0" cy="298.2" r="1.35"/><circle cx="486.8" cy="298.3" r="1.35"/><circle cx="488.6" cy="298.4" r="1.35"/><circle cx="490.4" cy="298.4" r="1.35"/><circle cx="492.2" cy="298.3" r="1.35"/><circle cx="493.9" cy="298.0" r="1.35"/><circle cx="495.7" cy="297.7" r="1.35"/><circle cx="497.5" cy="297.3" r="1.35"/><circle cx="499.3" cy="297.1" r="1.35"/><circle cx="501.1" cy="297.0" r="1.35"/><circle cx="502.8" cy="297.1" r="1.35"/><circle cx="504.6" cy="297.2" r="1.35"/><circle cx="506.4" cy="297.5" r="1.35"/><circle cx="508.2" cy="297.7" r="1.35"/><circle cx="509.9" cy="298.0" r="1.35"/><circle cx="511.7" cy="298.2" r="1.35"/><circle cx="513.5" cy="298.4" r="1.35"/><circle cx="515.3" cy="298.7" r="1.35"/><circle cx="517.1" cy="298.9" r="1.35"/><circle cx="518.8" cy="299.2" r="1.35"/><circle cx="520.6" cy="299.5" r="1.35"/><circle cx="522.4" cy="299.7" r="1.35"/><circle cx="524.2" cy="300.0" r="1.35"/><circle cx="525.9" cy="300.3" r="1.35"/><circle cx="527.7" cy="300.7" r="1.35"/><circle cx="529.5" cy="301.0" r="1.35"/><circle cx="531.3" cy="301.4" r="1.35"/><circle cx="533.1" cy="301.8" r="1.35"/><circle cx="534.8" cy="302.2" r="1.35"/><circle cx="536.6" cy="302.7" r="1.35"/><circle cx="538.4" cy="303.2" r="1.35"/><circle cx="540.2" cy="303.6" r="1.35"/><circle cx="542.0" cy="304.0" r="1.35"/><circle cx="543.7" cy="304.5" r="1.35"/><circle cx="545.5" cy="305.5" r="1.35"/><circle cx="547.3" cy="307.3" r="1.35"/><circle cx="549.1" cy="310.0" r="1.35"/><circle cx="550.8" cy="313.8" r="1.35"/><circle cx="552.6" cy="318.6" r="1.35"/><circle cx="554.4" cy="326.0" r="1.35"/><circle cx="556.2" cy="338.0" r="1.35"/><circle cx="558.0" cy="357.8" r="1.35"/><circle cx="559.7" cy="361.5" r="1.35"/><circle cx="561.5" cy="365.4" r="1.35"/><circle cx="563.3" cy="366.6" r="1.35"/><circle cx="565.1" cy="362.9" r="1.35"/><circle cx="566.8" cy="360.6" r="1.35"/><circle cx="568.6" cy="357.9" r="1.35"/><circle cx="570.4" cy="354.2" r="1.35"/><circle cx="572.2" cy="351.0" r="1.35"/><circle cx="574.0" cy="348.1" r="1.35"/><circle cx="575.7" cy="345.3" r="1.35"/><circle cx="577.5" cy="341.9" r="1.35"/><circle cx="579.3" cy="337.2" r="1.35"/><circle cx="581.1" cy="333.4" r="1.35"/><circle cx="582.8" cy="330.3" r="1.35"/><circle cx="584.6" cy="327.3" r="1.35"/><circle cx="586.4" cy="323.6" r="1.35"/><circle cx="588.2" cy="318.3" r="1.35"/><circle cx="590.0" cy="314.4" r="1.35"/><circle cx="591.7" cy="309.8" r="1.35"/><circle cx="593.5" cy="305.8" r="1.35"/><circle cx="595.3" cy="302.6" r="1.35"/><circle cx="597.1" cy="300.3" r="1.35"/><circle cx="598.9" cy="299.5" r="1.35"/><circle cx="600.6" cy="299.3" r="1.35"/><circle cx="602.4" cy="299.6" r="1.35"/><circle cx="604.2" cy="300.7" r="1.35"/><circle cx="606.0" cy="302.9" r="1.35"/><circle cx="607.7" cy="305.1" r="1.35"/><circle cx="609.5" cy="307.4" r="1.35"/><circle cx="611.3" cy="309.8" r="1.35"/><circle cx="613.1" cy="312.3" r="1.35"/><circle cx="614.9" cy="314.8" r="1.35"/><circle cx="616.6" cy="317.4" r="1.35"/><circle cx="618.4" cy="320.2" r="1.35"/><circle cx="620.2" cy="323.1" r="1.35"/>
</g></g>
<g stroke="#ff0000" fill="none">
<polyline points="115.2,260.9 117.0,261.0 118.8,261.1 120.5,261.1 122.3,261.2 124.1,261.3 125.9,261.3 127.6,261.4 129.4,261.4 131.2,261.5 133.0,261.6 134.8,261.6 136.5,261.7 138.3,261.7 140.1,261.8 141.9,261.8 143.7,261.9 145.4,261.9 147.2,261.9 149.0,262.0 150.8,262.0 152.5,262.0 154.3,262.1 156.1,262.1 157.9,262.2 159.7,262.2 161.4,262.2 163.2,262.3 165.0,262.3 166.8,262.3 168.5,262.3 170.3,262.4 172.1,262.4 173.9,262.4 175.7,262.5 177.4,262.5 179.2,262.5 181.0,262.5 182.8,262.5 184.5,262.6 186.3,262.6 188.1,262.6 189.9,262.6 191.7,262.6 193.4,262.6 195.2,262.6 197.0,262.6 198.8,262.6 200.6,262.6 202.3,262.6 204.1,262.6 205.9,262.6 207.7,262.6 209.4,262.6 211.2,262.6 213.0,262.6 214.8,262.6 216.6,262.6 218.3,262.5 220.1,262.5 221.9,262.5 223.7,262.5 225.4,262.5 227.2,262.5 229.0,262.5 230.8,262.5 232.6,262.5 234.3,262.5 236.1,262.5 237.9,262.5 239.7,262.4 241.4,262.4 243.2,262.4 245.0,262.4 246.8,262.4 248.6,262.4 250.3,262.4 252.1,262.4 253.9,262.4 255.7,262.4 257.4,262.4 259.2,262.3 261.0,262.3 262.8,262.3 264.6,262.3 266.3,262.3 268.1,262.3 269.9,262.3 271.7,262.2 273.5,262.2 275.2,262.2 277.0,262.2 278.8,262.2 280.6,262.2 282.3,262.2 284.1,262.2 285.9,262.2 287.7,262.2 289.5,262.2 291.2,262.2 293.0,262.3 294.8,262.3 296.6,262.3 298.3,262.3 300.1,262.4 301.9,262.4 303.7,262.4 305.5,262.5 307.2,262.5 309.0,262.5 310.8,262.6 312.6,262.6 314.4,262.6 316.1,262.7 317.9,262.7 319.7,262.8 321.5,262.8 323.2,262.8 325.0,262.9 326.8,262.9 328.6,263.0 330.4,263.0 332.1,263.1 333.9,263.1 335.7,263.1 337.5,263.2 339.2,263.2 341.0,263.3 342.8,263.4 344.6,263.4 346.4,263.5 348.1,263.5 349.9,263.6 351.7,263.7 353.5,263.7 355.2,263.8 357.0,263.9 358.8,263.9 360.6,264.0 362.4,264.0 364.1,264.1 365.9,264.2 367.7,264.2 369.5,264.3 371.2,264.3 373.0,264.4 374.8,264.4 376.6,264.5 378.4,264.6 380.1,264.6 381.9,264.7 383.7,264.7 385.5,264.8 387.3,264.8 389.0,264.9 390.8,265.0 392.6,265.0 394.4,265.1 396.1,265.1 397.9,265.2 399.7,265.3 401.5,265.3 403.3,265.4 405.0,265.4 406.8,265.5 408.6,265.5 410.4,265.6 412.1,265.7 413.9,265.7 415.7,265.8 417.5,265.9 419.3,266.0 421.0,266.1 422.8,266.1 424.6,266.3 426.4,266.4 428.1,266.5 429.9,266.6 431.7,266.8 433.5,266.9 435.3,267.1 437.0,267.2 438.8,267.3 440.6,267.5 442.4,267.6 444.2,267.8 445.9,267.9 447.7,268.1 449.5,268.2 451.3,268.3 453.0,268.4 454.8,268.5 456.6,268.6 458.4,268.7 460.2,268.8 461.9,268.9 463.7,269.0 465.5,269.1 467.3,269.2 469.0,269.3 470.8,269.4 472.6,269.5 474.4,269.6 476.2,269.7 477.9,269.8 479.7,269.9 481.5,269.9 483.3,270.0 485.0,270.1 486.8,270.2 488.6,270.3 490.4,270.4 492.2,270.5 493.9,270.6 495.7,270.7 497.5,270.8 499.3,271.0 501.1,271.1 502.8,271.2 504.6,271.3 506.4,271.5 508.2,271.6 509.9,271.7 511.7,271.9 513.5,272.0 515.3,272.2 517.1,272.3 518.8,272.5 520.6,272.6 522.4,272.8 524.2,272.9 525.9,273.1 527.7,273.2 529.5,273.4 531.3,273.5 533.1,273.6 534.8,273.8 536.6,273.9 538.4,274.0 540.2,274.2 542.0,274.3 543.7,274.5 545.5,274.6 547.3,274.8 549.1,275.0 550.8,275.3 552.6,275.8 554.4,276.9 556.2,278.1 558.0,279.2 559.7,280.3 561.5,281.3 563.3,282.1 565.1,282.9 566.8,283.5 568.6,284.1 570.4,284.7 572.2,285.1 574.0,285.6 575.7,286.0 577.5,286.4 579.3,286.8 581.1,287.1 582.8,287.4 584.6,287.7 586.4,287.9 588.2,288.1 590.0,288.4 591.7,288.6 593.5,288.8 595.3,289.0 597.1,289.2 598.9,289.4 600.6,289.6 602.4,289.7 604.2,289.9 606.0,290.1 607.7,290.3 609.5,290.5 611.3,290.7 613.1,291.0 614.9,291.2 616.6,291.5 618.4,291.7 620.2,292.0" stroke-width="0.35"/>
<g stroke-width="0.8">
<circle cx="115.2" cy="260.9" r="1.35"/><circle cx="117.0" cy="261.0" r="1.35"/><circle cx="118.8" cy="261.1" r="1.35"/><circle cx="120.5" cy="261.1" r="1.35"/><circle cx="122.3" cy="261.2" r="1.35"/><circle cx="124.1" cy="261.3" r="1.35"/><circle cx="125.9" cy="261.3" r="1.35"/><circle cx="127.6" cy="261.4" r="1.35"/><circle cx="129.4" cy="261.4" r="1.35"/><circle cx="131.2" cy="261.5" r="1.35"/><circle cx="133.0" cy="261.6" r="1.35"/><circle cx="134.8" cy="261.6" r="1.35"/><circle cx="136.5" cy="261.7" r="1.35"/><circle cx="138.3" cy="261.7" r="1.35"/><circle cx="140.1" cy="261.8" r="1.35"/><circle cx="141.9" cy="261.8" r="1.35"/><circle cx="143.7" cy="261.9" r="1.35"/><circle cx="145.4" cy="261.9" r="1.35"/><circle cx="147.2" cy="261.9" r="1.35"/><circle cx="149.0" cy="262.0" r="1.35"/><circle cx="150.8" cy="262.0" r="1.35"/><circle cx="152.5" cy="262.0" r="1.35"/><circle cx="154.3" cy="262.1" r="1.35"/><circle cx="156.1" cy="262.1" r="1.35"/><circle cx="157.9" cy="262.2" r="1.35"/><circle cx="159.7" cy="262.2" r="1.35"/><circle cx="161.4" cy="262.2" r="1.35"/><circle cx="163.2" cy="262.3" r="1.35"/><circle cx="165.0" cy="262.3" r="1.35"/><circle cx="166.8" cy="262.3" r="1.35"/><circle cx="168.5" cy="262.3" r="1.35"/><circle cx="170.3" cy="262.4" r="1.35"/><circle cx="172.1" cy="262.4" r="1.35"/><circle cx="173.9" cy="262.4" r="1.35"/><circle cx="175.7" cy="262.5" r="1.35"/><circle cx="177.4" cy="262.5" r="1.35"/><circle cx="179.2" cy="262.5" r="1.35"/><circle cx="181.0" cy="262.5" r="1.35"/><circle cx="182.8" cy="262.5" r="1.35"/><circle cx="184.5" cy="262.6" r="1.35"/><circle cx="186.3" cy="262.6" r="1.35"/><circle cx="188.1" cy="262.6" r="1.35"/><circle cx="189.9" cy="262.6" r="1.35"/><circle cx="191.7" cy="262.6" r="1.35"/><circle cx="193.4" cy="262.6" r="1.35"/><circle cx="195.2" cy="262.6" r="1.35"/><circle cx="197.0" cy="262.6" r="1.35"/><circle cx="198.8" cy="262.6" r="1.35"/><circle cx="200.6" cy="262.6" r="1.35"/><circle cx="202.3" cy="262.6" r="1.35"/><circle cx="204.1" cy="262.6" r="1.35"/><circle cx="205.9" cy="262.6" r="1.35"/><circle cx="207.7" cy="262.6" r="1.35"/><circle cx="209.4" cy="262.6" r="1.35"/><circle cx="211.2" cy="262.6" r="1.35"/><circle cx="213.0" cy="262.6" r="1.35"/><circle cx="214.8" cy="262.6" r="1.35"/><circle cx="216.6" cy="262.6" r="1.35"/><circle cx="218.3" cy="262.5" r="1.35"/><circle cx="220.1" cy="262.5" r="1.35"/><circle cx="221.9" cy="262.5" r="1.35"/><circle cx="223.7" cy="262.5" r="1.35"/><circle cx="225.4" cy="262.5" r="1.35"/><circle cx="227.2" cy="262.5" r="1.35"/><circle cx="229.0" cy="262.5" r="1.35"/><circle cx="230.8" cy="262.5" r="1.35"/><circle cx="232.6" cy="262.5" r="1.35"/><circle cx="234.3" cy="262.5" r="1.35"/><circle cx="236.1" cy="262.5" r="1.35"/><circle cx="237.9" cy="262.5" r="1.35"/><circle cx="239.7" cy="262.4" r="1.35"/><circle cx="241.4" cy="262.4" r="1.35"/><circle cx="243.2" cy="262.4" r="1.35"/><circle cx="245.0" cy="262.4" r="1.35"/><circle cx="246.8" cy="262.4" r="1.35"/><circle cx="248.6" cy="262.4" r="1.35"/><circle cx="250.3" cy="262.4" r="1.35"/><circle cx="252.1" cy="262.4" r="1.35"/><circle cx="253.9" cy="262.4" r="1.35"/><circle cx="255.7" cy="262.4" r="1.35"/><circle cx="257.4" cy="262.4" r="1.35"/><circle cx="259.2" cy="262.3" r="1.35"/><circle cx="261.0" cy="262.3" r="1.35"/><circle cx="262.8" cy="262.3" r="1.35"/><circle cx="264.6" cy="262.3" r="1.35"/><circle cx="266.3" cy="262.3" r="1.35"/><circle cx="268.1" cy="262.3" r="1.35"/><circle cx="269.9" cy="262.3" r="1.35"/><circle cx="271.7" cy="262.2" r="1.35"/><circle cx="273.5" cy="262.2" r="1.35"/><circle cx="275.2" cy="262.2" r="1.35"/><circle cx="277.0" cy="262.2" r="1.35"/><circle cx="278.8" cy="262.2" r="1.35"/><circle cx="280.6" cy="262.2" r="1.35"/><circle cx="282.3" cy="262.2" r="1.35"/><circle cx="284.1" cy="262.2" r="1.35"/><circle cx="285.9" cy="262.2" r="1.35"/><circle cx="287.7" cy="262.2" r="1.35"/><circle cx="289.5" cy="262.2" r="1.35"/><circle cx="291.2" cy="262.2" r="1.35"/><circle cx="293.0" cy="262.3" r="1.35"/><circle cx="294.8" cy="262.3" r="1.35"/><circle cx="296.6" cy="262.3" r="1.35"/><circle cx="298.3" cy="262.3" r="1.35"/><circle cx="300.1" cy="262.4" r="1.35"/><circle cx="301.9" cy="262.4" r="1.35"/><circle cx="303.7" cy="262.4" r="1.35"/><circle cx="305.5" cy="262.5" r="1.35"/><circle cx="307.2" cy="262.5" r="1.35"/><circle cx="309.0" cy="262.5" r="1.35"/><circle cx="310.8" cy="262.6" r="1.35"/><circle cx="312.6" cy="262.6" r="1.35"/><circle cx="314.4" cy="262.6" r="1.35"/><circle cx="316.1" cy="262.7" r="1.35"/><circle cx="317.9" cy="262.7" r="1.35"/><circle cx="319.7" cy="262.8" r="1.35"/><circle cx="321.5" cy="262.8" r="1.35"/><circle cx="323.2" cy="262.8" r="1.35"/><circle cx="325.0" cy="262.9" r="1.35"/><circle cx="326.8" cy="262.9" r="1.35"/><circle cx="328.6" cy="263.0" r="1.35"/><circle cx="330.4" cy="263.0" r="1.35"/><circle cx="332.1" cy="263.1" r="1.35"/><circle cx="333.9" cy="263.1" r="1.35"/><circle cx="335.7" cy="263.1" r="1.35"/><circle cx="337.5" cy="263.2" r="1.35"/><circle cx="339.2" cy="263.2" r="1.35"/><circle cx="341.0" cy="263.3" r="1.35"/><circle cx="342.8" cy="263.4" r="1.35"/><circle cx="344.6" cy="263.4" r="1.35"/><circle cx="346.4" cy="263.5" r="1.35"/><circle cx="348.1" cy="263.5" r="1.35"/><circle cx="349.9" cy="263.6" r="1.35"/><circle cx="351.7" cy="263.7" r="1.35"/><circle cx="353.5" cy="263.7" r="1.35"/><circle cx="355.2" cy="263.8" r="1.35"/><circle cx="357.0" cy="263.9" r="1.35"/><circle cx="358.8" cy="263.9" r="1.35"/><circle cx="360.6" cy="264.0" r="1.35"/><circle cx="362.4" cy="264.0" r="1.35"/><circle cx="364.1" cy="264.1" r="1.35"/><circle cx="365.9" cy="264.2" r="1.35"/><circle cx="367.7" cy="264.2" r="1.35"/><circle cx="369.5" cy="264.3" r="1.35"/><circle cx="371.2" cy="264.3" r="1.35"/><circle cx="373.0" cy="264.4" r="1.35"/><circle cx="374.8" cy="264.4" r="1.35"/><circle cx="376.6" cy="264.5" r="1.35"/><circle cx="378.4" cy="264.6" r="1.35"/><circle cx="380.1" cy="264.6" r="1.35"/><circle cx="381.9" cy="264.7" r="1.35"/><circle cx="383.7" cy="264.7" r="1.35"/><circle cx="385.5" cy="264.8" r="1.35"/><circle cx="387.3" cy="264.8" r="1.35"/><circle cx="389.0" cy="264.9" r="1.35"/><circle cx="390.8" cy="265.0" r="1.35"/><circle cx="392.6" cy="265.0" r="1.35"/><circle cx="394.4" cy="265.1" r="1.35"/><circle cx="396.1" cy="265.1" r="1.35"/><circle cx="397.9" cy="265.2" r="1.35"/><circle cx="399.7" cy="265.3" r="1.35"/><circle cx="401.5" cy="265.3" r="1.35"/><circle cx="403.3" cy="265.4" r="1.35"/><circle cx="405.0" cy="265.4" r="1.35"/><circle cx="406.8" cy="265.5" r="1.35"/><circle cx="408.6" cy="265.5" r="1.35"/><circle cx="410.4" cy="265.6" r="1.35"/><circle cx="412.1" cy="265.7" r="1.35"/><circle cx="413.9" cy="265.7" r="1.35"/><circle cx="415.7" cy="265.8" r="1.35"/><circle cx="417.5" cy="265.9" r="1.35"/><circle cx="419.3" cy="266.0" r="1.35"/><circle cx="421.0" cy="266.1" r="1.35"/><circle cx="422.8" cy="266.1" r="1.35"/><circle cx="424.6" cy="266.3" r="1.35"/><circle cx="426.4" cy="266.4" r="1.35"/><circle cx="428.1" cy="266.5" r="1.35"/><circle cx="429.9" cy="266.6" r="1.35"/><circle cx="431.7" cy="266.8" r="1.35"/><circle cx="433.5" cy="266.9" r="1.35"/><circle cx="435.3" cy="267.1" r="1.35"/><circle cx="437.0" cy="267.2" r="1.35"/><circle cx="438.8" cy="267.3" r="1.35"/><circle cx="440.6" cy="267.5" r="1.35"/><circle cx="442.4" cy="267.6" r="1.35"/><circle cx="444.2" cy="267.8" r="1.35"/><circle cx="445.9" cy="267.9" r="1.35"/><circle cx="447.7" cy="268.1" r="1.35"/><circle cx="449.5" cy="268.2" r="1.35"/><circle cx="451.3" cy="268.3" r="1.35"/><circle cx="453.0" cy="268.4" r="1.35"/><circle cx="454.8" cy="268.5" r="1.35"/><circle cx="456.6" cy="268.6" r="1.35"/><circle cx="458.4" cy="268.7" r="1.35"/><circle cx="460.2" cy="268.8" r="1.35"/><circle cx="461.9" cy="268.9" r="1.35"/><circle cx="463.7" cy="269.0" r="1.35"/><circle cx="465.5" cy="269.1" r="1.35"/><circle cx="467.3" cy="269.2" r="1.35"/><circle cx="469.0" cy="269.3" r="1.35"/><circle cx="470.8" cy="269.4" r="1.35"/><circle cx="472.6" cy="269.5" r="1.35"/><circle cx="474.4" cy="269.6" r="1.35"/><circle cx="476.2" cy="269.7" r="1.35"/><circle cx="477.9" cy="269.8" r="1.35"/><circle cx="479.7" cy="269.9" r="1.35"/><circle cx="481.5" cy="269.9" r="1.35"/><circle cx="483.3" cy="270.0" r="1.35"/><circle cx="485.0" cy="270.1" r="1.35"/><circle cx="486.8" cy="270.2" r="1.35"/><circle cx="488.6" cy="270.3" r="1.35"/><circle cx="490.4" cy="270.4" r="1.35"/><circle cx="492.2" cy="270.5" r="1.35"/><circle cx="493.9" cy="270.6" r="1.35"/><circle cx="495.7" cy="270.7" r="1.35"/><circle cx="497.5" cy="270.8" r="1.35"/><circle cx="499.3" cy="271.0" r="1.35"/><circle cx="501.1" cy="271.1" r="1.35"/><circle cx="502.8" cy="271.2" r="1.35"/><circle cx="504.6" cy="271.3" r="1.35"/><circle cx="506.4" cy="271.5" r="1.35"/><circle cx="508.2" cy="271.6" r="1.35"/><circle cx="509.9" cy="271.7" r="1.35"/><circle cx="511.7" cy="271.9" r="1.35"/><circle cx="513.5" cy="272.0" r="1.35"/><circle cx="515.3" cy="272.2" r="1.35"/><circle cx="517.1" cy="272.3" r="1.35"/><circle cx="518.8" cy="272.5" r="1.35"/><circle cx="520.6" cy="272.6" r="1.35"/><circle cx="522.4" cy="272.8" r="1.35"/><circle cx="524.2" cy="272.9" r="1.35"/><circle cx="525.9" cy="273.1" r="1.35"/><circle cx="527.7" cy="273.2" r="1.35"/><circle cx="529.5" cy="273.4" r="1.35"/><circle cx="531.3" cy="273.5" r="1.35"/><circle cx="533.1" cy="273.6" r="1.35"/><circle cx="534.8" cy="273.8" r="1.35"/><circle cx="536.6" cy="273.9" r="1.35"/><circle cx="538.4" cy="274.0" r="1.35"/><circle cx="540.2" cy="274.2" r="1.35"/><circle cx="542.0" cy="274.3" r="1.35"/><circle cx="543.7" cy="274.5" r="1.35"/><circle cx="545.5" cy="274.6" r="1.35"/><circle cx="547.3" cy="274.8" r="1.35"/><circle cx="549.1" cy="275.0" r="1.35"/><circle cx="550.8" cy="275.3" r="1.35"/><circle cx="552.6" cy="275.8" r="1.35"/><circle cx="554.4" cy="276.9" r="1.35"/><circle cx="556.2" cy="278.1" r="1.35"/><circle cx="558.0" cy="279.2" r="1.35"/><circle cx="559.7" cy="280.3" r="1.35"/><circle cx="561.5" cy="281.3" r="1.35"/><circle cx="563.3" cy="282.1" r="1.35"/><circle cx="565.1" cy="282.9" r="1.35"/><circle cx="566.8" cy="283.5" r="1.35"/><circle cx="568.6" cy="284.1" r="1.35"/><circle cx="570.4" cy="284.7" r="1.35"/><circle cx="572.2" cy="285.1" r="1.35"/><circle cx="574.0" cy="285.6" r="1.35"/><circle cx="575.7" cy="286.0" r="1.35"/><circle cx="577.5" cy="286.4" r="1.35"/><circle cx="579.3" cy="286.8" r="1.35"/><circle cx="581.1" cy="287.1" r="1.35"/><circle cx="582.8" cy="287.4" r="1.35"/><circle cx="584.6" cy="287.7" r="1.35"/><circle cx="586.4" cy="287.9" r="1.35"/><circle cx="588.2" cy="288.1" r="1.35"/><circle cx="590.0" cy="288.4" r="1.35"/><circle cx="591.7" cy="288.6" r="1.35"/><circle cx="593.5" cy="288.8" r="1.35"/><circle cx="595.3" cy="289.0" r="1.35"/><circle cx="597.1" cy="289.2" r="1.35"/><circle cx="598.9" cy="289.4" r="1.35"/><circle cx="600.6" cy="289.6" r="1.35"/><circle cx="602.4" cy="289.7" r="1.35"/><circle cx="604.2" cy="289.9" r="1.35"/><circle cx="606.0" cy="290.1" r="1.35"/><circle cx="607.7" cy="290.3" r="1.35"/><circle cx="609.5" cy="290.5" r="1.35"/><circle cx="611.3" cy="290.7" r="1.35"/><circle cx="613.1" cy="291.0" r="1.35"/><circle cx="614.9" cy="291.2" r="1.35"/><circle cx="616.6" cy="291.5" r="1.35"/><circle cx="618.4" cy="291.7" r="1.35"/><circle cx="620.2" cy="292.0" r="1.35"/>
</g></g>
<g stroke="#111111" fill="none">
<polyline points="115.2,299.7 117.0,299.8 118.8,300.0 120.5,300.1 122.3,300.2 124.1,300.3 125.9,300.4 127.6,300.4 129.4,300.5 131.2,300.6 133.0,300.7 134.8,300.8 136.5,300.9 138.3,301.0 140.1,301.0 141.9,301.1 143.7,301.2 145.4,301.3 147.2,301.3 149.0,301.4 150.8,301.4 152.5,301.5 154.3,301.5 156.1,301.6 157.9,301.6 159.7,301.6 161.4,301.7 163.2,301.7 165.0,301.8 166.8,301.8 168.5,301.8 170.3,301.9 172.1,301.9 173.9,301.9 175.7,301.9 177.4,302.0 179.2,302.0 181.0,302.0 182.8,302.1 184.5,302.1 186.3,302.1 188.1,302.2 189.9,302.2 191.7,302.2 193.4,302.3 195.2,302.3 197.0,302.3 198.8,302.4 200.6,302.4 202.3,302.5 204.1,302.5 205.9,302.6 207.7,302.6 209.4,302.7 211.2,302.7 213.0,302.8 214.8,302.8 216.6,302.9 218.3,302.9 220.1,303.0 221.9,303.0 223.7,303.1 225.4,303.1 227.2,303.2 229.0,303.2 230.8,303.2 232.6,303.2 234.3,303.3 236.1,303.3 237.9,303.3 239.7,303.3 241.4,303.3 243.2,303.3 245.0,303.4 246.8,303.4 248.6,303.4 250.3,303.4 252.1,303.4 253.9,303.4 255.7,303.4 257.4,303.4 259.2,303.4 261.0,303.5 262.8,303.5 264.6,303.5 266.3,303.5 268.1,303.5 269.9,303.5 271.7,303.5 273.5,303.5 275.2,303.6 277.0,303.6 278.8,303.6 280.6,303.6 282.3,303.6 284.1,303.6 285.9,303.7 287.7,303.7 289.5,303.7 291.2,303.7 293.0,303.7 294.8,303.8 296.6,303.8 298.3,303.8 300.1,303.8 301.9,303.8 303.7,303.9 305.5,303.9 307.2,303.9 309.0,303.9 310.8,303.9 312.6,304.0 314.4,304.0 316.1,304.0 317.9,304.0 319.7,304.1 321.5,304.1 323.2,304.1 325.0,304.1 326.8,304.2 328.6,304.2 330.4,304.2 332.1,304.2 333.9,304.3 335.7,304.3 337.5,304.3 339.2,304.3 341.0,304.4 342.8,304.4 344.6,304.4 346.4,304.5 348.1,304.5 349.9,304.5 351.7,304.6 353.5,304.6 355.2,304.6 357.0,304.7 358.8,304.7 360.6,304.7 362.4,304.8 364.1,304.8 365.9,304.8 367.7,304.9 369.5,304.9 371.2,304.9 373.0,305.0 374.8,305.0 376.6,305.0 378.4,305.1 380.1,305.1 381.9,305.1 383.7,305.2 385.5,305.2 387.3,305.2 389.0,305.2 390.8,305.3 392.6,305.3 394.4,305.3 396.1,305.4 397.9,305.4 399.7,305.4 401.5,305.4 403.3,305.4 405.0,305.5 406.8,305.5 408.6,305.5 410.4,305.5 412.1,305.5 413.9,305.5 415.7,305.6 417.5,305.6 419.3,305.6 421.0,305.6 422.8,305.6 424.6,305.7 426.4,305.7 428.1,305.7 429.9,305.7 431.7,305.8 433.5,305.8 435.3,305.8 437.0,305.8 438.8,305.9 440.6,305.9 442.4,305.9 444.2,306.0 445.9,306.0 447.7,306.0 449.5,306.1 451.3,306.1 453.0,306.1 454.8,306.2 456.6,306.2 458.4,306.2 460.2,306.3 461.9,306.3 463.7,306.3 465.5,306.3 467.3,306.4 469.0,306.4 470.8,306.4 472.6,306.5 474.4,306.5 476.2,306.5 477.9,306.6 479.7,306.6 481.5,306.6 483.3,306.7 485.0,306.7 486.8,306.7 488.6,306.7 490.4,306.8 492.2,306.8 493.9,306.8 495.7,306.8 497.5,306.9 499.3,306.9 501.1,306.9 502.8,306.9 504.6,306.9 506.4,307.0 508.2,307.0 509.9,307.0 511.7,307.1 513.5,307.1 515.3,307.1 517.1,307.1 518.8,307.2 520.6,307.2 522.4,307.2 524.2,307.3 525.9,307.3 527.7,307.3 529.5,307.4 531.3,307.4 533.1,307.5 534.8,307.5 536.6,307.6 538.4,307.6 540.2,307.7 542.0,307.8 543.7,307.9 545.5,308.0 547.3,308.3 549.1,308.6 550.8,309.0 552.6,309.6 554.4,309.9 556.2,309.0 558.0,307.4 559.7,305.2 561.5,304.1 563.3,303.3 565.1,302.6 566.8,302.0 568.6,301.7 570.4,301.5 572.2,301.4 574.0,301.3 575.7,301.2 577.5,301.1 579.3,301.1 581.1,301.1 582.8,301.1 584.6,301.1 586.4,301.2 588.2,301.2 590.0,301.3 591.7,301.3 593.5,301.4 595.3,301.5 597.1,301.5 598.9,301.6 600.6,301.7 602.4,301.7 604.2,301.8 606.0,301.9 607.7,302.0 609.5,302.0 611.3,302.1 613.1,302.2 614.9,302.3 616.6,302.4 618.4,302.5 620.2,302.6" stroke-width="0.35"/>
<g stroke-width="0.8">
<circle cx="115.2" cy="299.7" r="1.35"/><circle cx="117.0" cy="299.8" r="1.35"/><circle cx="118.8" cy="300.0" r="1.35"/><circle cx="120.5" cy="300.1" r="1.35"/><circle cx="122.3" cy="300.2" r="1.35"/><circle cx="124.1" cy="300.3" r="1.35"/><circle cx="125.9" cy="300.4" r="1.35"/><circle cx="127.6" cy="300.4" r="1.35"/><circle cx="129.4" cy="300.5" r="1.35"/><circle cx="131.2" cy="300.6" r="1.35"/><circle cx="133.0" cy="300.7" r="1.35"/><circle cx="134.8" cy="300.8" r="1.35"/><circle cx="136.5" cy="300.9" r="1.35"/><circle cx="138.3" cy="301.0" r="1.35"/><circle cx="140.1" cy="301.0" r="1.35"/><circle cx="141.9" cy="301.1" r="1.35"/><circle cx="143.7" cy="301.2" r="1.35"/><circle cx="145.4" cy="301.3" r="1.35"/><circle cx="147.2" cy="301.3" r="1.35"/><circle cx="149.0" cy="301.4" r="1.35"/><circle cx="150.8" cy="301.4" r="1.35"/><circle cx="152.5" cy="301.5" r="1.35"/><circle cx="154.3" cy="301.5" r="1.35"/><circle cx="156.1" cy="301.6" r="1.35"/><circle cx="157.9" cy="301.6" r="1.35"/><circle cx="159.7" cy="301.6" r="1.35"/><circle cx="161.4" cy="301.7" r="1.35"/><circle cx="163.2" cy="301.7" r="1.35"/><circle cx="165.0" cy="301.8" r="1.35"/><circle cx="166.8" cy="301.8" r="1.35"/><circle cx="168.5" cy="301.8" r="1.35"/><circle cx="170.3" cy="301.9" r="1.35"/><circle cx="172.1" cy="301.9" r="1.35"/><circle cx="173.9" cy="301.9" r="1.35"/><circle cx="175.7" cy="301.9" r="1.35"/><circle cx="177.4" cy="302.0" r="1.35"/><circle cx="179.2" cy="302.0" r="1.35"/><circle cx="181.0" cy="302.0" r="1.35"/><circle cx="182.8" cy="302.1" r="1.35"/><circle cx="184.5" cy="302.1" r="1.35"/><circle cx="186.3" cy="302.1" r="1.35"/><circle cx="188.1" cy="302.2" r="1.35"/><circle cx="189.9" cy="302.2" r="1.35"/><circle cx="191.7" cy="302.2" r="1.35"/><circle cx="193.4" cy="302.3" r="1.35"/><circle cx="195.2" cy="302.3" r="1.35"/><circle cx="197.0" cy="302.3" r="1.35"/><circle cx="198.8" cy="302.4" r="1.35"/><circle cx="200.6" cy="302.4" r="1.35"/><circle cx="202.3" cy="302.5" r="1.35"/><circle cx="204.1" cy="302.5" r="1.35"/><circle cx="205.9" cy="302.6" r="1.35"/><circle cx="207.7" cy="302.6" r="1.35"/><circle cx="209.4" cy="302.7" r="1.35"/><circle cx="211.2" cy="302.7" r="1.35"/><circle cx="213.0" cy="302.8" r="1.35"/><circle cx="214.8" cy="302.8" r="1.35"/><circle cx="216.6" cy="302.9" r="1.35"/><circle cx="218.3" cy="302.9" r="1.35"/><circle cx="220.1" cy="303.0" r="1.35"/><circle cx="221.9" cy="303.0" r="1.35"/><circle cx="223.7" cy="303.1" r="1.35"/><circle cx="225.4" cy="303.1" r="1.35"/><circle cx="227.2" cy="303.2" r="1.35"/><circle cx="229.0" cy="303.2" r="1.35"/><circle cx="230.8" cy="303.2" r="1.35"/><circle cx="232.6" cy="303.2" r="1.35"/><circle cx="234.3" cy="303.3" r="1.35"/><circle cx="236.1" cy="303.3" r="1.35"/><circle cx="237.9" cy="303.3" r="1.35"/><circle cx="239.7" cy="303.3" r="1.35"/><circle cx="241.4" cy="303.3" r="1.35"/><circle cx="243.2" cy="303.3" r="1.35"/><circle cx="245.0" cy="303.4" r="1.35"/><circle cx="246.8" cy="303.4" r="1.35"/><circle cx="248.6" cy="303.4" r="1.35"/><circle cx="250.3" cy="303.4" r="1.35"/><circle cx="252.1" cy="303.4" r="1.35"/><circle cx="253.9" cy="303.4" r="1.35"/><circle cx="255.7" cy="303.4" r="1.35"/><circle cx="257.4" cy="303.4" r="1.35"/><circle cx="259.2" cy="303.4" r="1.35"/><circle cx="261.0" cy="303.5" r="1.35"/><circle cx="262.8" cy="303.5" r="1.35"/><circle cx="264.6" cy="303.5" r="1.35"/><circle cx="266.3" cy="303.5" r="1.35"/><circle cx="268.1" cy="303.5" r="1.35"/><circle cx="269.9" cy="303.5" r="1.35"/><circle cx="271.7" cy="303.5" r="1.35"/><circle cx="273.5" cy="303.5" r="1.35"/><circle cx="275.2" cy="303.6" r="1.35"/><circle cx="277.0" cy="303.6" r="1.35"/><circle cx="278.8" cy="303.6" r="1.35"/><circle cx="280.6" cy="303.6" r="1.35"/><circle cx="282.3" cy="303.6" r="1.35"/><circle cx="284.1" cy="303.6" r="1.35"/><circle cx="285.9" cy="303.7" r="1.35"/><circle cx="287.7" cy="303.7" r="1.35"/><circle cx="289.5" cy="303.7" r="1.35"/><circle cx="291.2" cy="303.7" r="1.35"/><circle cx="293.0" cy="303.7" r="1.35"/><circle cx="294.8" cy="303.8" r="1.35"/><circle cx="296.6" cy="303.8" r="1.35"/><circle cx="298.3" cy="303.8" r="1.35"/><circle cx="300.1" cy="303.8" r="1.35"/><circle cx="301.9" cy="303.8" r="1.35"/><circle cx="303.7" cy="303.9" r="1.35"/><circle cx="305.5" cy="303.9" r="1.35"/><circle cx="307.2" cy="303.9" r="1.35"/><circle cx="309.0" cy="303.9" r="1.35"/><circle cx="310.8" cy="303.9" r="1.35"/><circle cx="312.6" cy="304.0" r="1.35"/><circle cx="314.4" cy="304.0" r="1.35"/><circle cx="316.1" cy="304.0" r="1.35"/><circle cx="317.9" cy="304.0" r="1.35"/><circle cx="319.7" cy="304.1" r="1.35"/><circle cx="321.5" cy="304.1" r="1.35"/><circle cx="323.2" cy="304.1" r="1.35"/><circle cx="325.0" cy="304.1" r="1.35"/><circle cx="326.8" cy="304.2" r="1.35"/><circle cx="328.6" cy="304.2" r="1.35"/><circle cx="330.4" cy="304.2" r="1.35"/><circle cx="332.1" cy="304.2" r="1.35"/><circle cx="333.9" cy="304.3" r="1.35"/><circle cx="335.7" cy="304.3" r="1.35"/><circle cx="337.5" cy="304.3" r="1.35"/><circle cx="339.2" cy="304.3" r="1.35"/><circle cx="341.0" cy="304.4" r="1.35"/><circle cx="342.8" cy="304.4" r="1.35"/><circle cx="344.6" cy="304.4" r="1.35"/><circle cx="346.4" cy="304.5" r="1.35"/><circle cx="348.1" cy="304.5" r="1.35"/><circle cx="349.9" cy="304.5" r="1.35"/><circle cx="351.7" cy="304.6" r="1.35"/><circle cx="353.5" cy="304.6" r="1.35"/><circle cx="355.2" cy="304.6" r="1.35"/><circle cx="357.0" cy="304.7" r="1.35"/><circle cx="358.8" cy="304.7" r="1.35"/><circle cx="360.6" cy="304.7" r="1.35"/><circle cx="362.4" cy="304.8" r="1.35"/><circle cx="364.1" cy="304.8" r="1.35"/><circle cx="365.9" cy="304.8" r="1.35"/><circle cx="367.7" cy="304.9" r="1.35"/><circle cx="369.5" cy="304.9" r="1.35"/><circle cx="371.2" cy="304.9" r="1.35"/><circle cx="373.0" cy="305.0" r="1.35"/><circle cx="374.8" cy="305.0" r="1.35"/><circle cx="376.6" cy="305.0" r="1.35"/><circle cx="378.4" cy="305.1" r="1.35"/><circle cx="380.1" cy="305.1" r="1.35"/><circle cx="381.9" cy="305.1" r="1.35"/><circle cx="383.7" cy="305.2" r="1.35"/><circle cx="385.5" cy="305.2" r="1.35"/><circle cx="387.3" cy="305.2" r="1.35"/><circle cx="389.0" cy="305.2" r="1.35"/><circle cx="390.8" cy="305.3" r="1.35"/><circle cx="392.6" cy="305.3" r="1.35"/><circle cx="394.4" cy="305.3" r="1.35"/><circle cx="396.1" cy="305.4" r="1.35"/><circle cx="397.9" cy="305.4" r="1.35"/><circle cx="399.7" cy="305.4" r="1.35"/><circle cx="401.5" cy="305.4" r="1.35"/><circle cx="403.3" cy="305.4" r="1.35"/><circle cx="405.0" cy="305.5" r="1.35"/><circle cx="406.8" cy="305.5" r="1.35"/><circle cx="408.6" cy="305.5" r="1.35"/><circle cx="410.4" cy="305.5" r="1.35"/><circle cx="412.1" cy="305.5" r="1.35"/><circle cx="413.9" cy="305.5" r="1.35"/><circle cx="415.7" cy="305.6" r="1.35"/><circle cx="417.5" cy="305.6" r="1.35"/><circle cx="419.3" cy="305.6" r="1.35"/><circle cx="421.0" cy="305.6" r="1.35"/><circle cx="422.8" cy="305.6" r="1.35"/><circle cx="424.6" cy="305.7" r="1.35"/><circle cx="426.4" cy="305.7" r="1.35"/><circle cx="428.1" cy="305.7" r="1.35"/><circle cx="429.9" cy="305.7" r="1.35"/><circle cx="431.7" cy="305.8" r="1.35"/><circle cx="433.5" cy="305.8" r="1.35"/><circle cx="435.3" cy="305.8" r="1.35"/><circle cx="437.0" cy="305.8" r="1.35"/><circle cx="438.8" cy="305.9" r="1.35"/><circle cx="440.6" cy="305.9" r="1.35"/><circle cx="442.4" cy="305.9" r="1.35"/><circle cx="444.2" cy="306.0" r="1.35"/><circle cx="445.9" cy="306.0" r="1.35"/><circle cx="447.7" cy="306.0" r="1.35"/><circle cx="449.5" cy="306.1" r="1.35"/><circle cx="451.3" cy="306.1" r="1.35"/><circle cx="453.0" cy="306.1" r="1.35"/><circle cx="454.8" cy="306.2" r="1.35"/><circle cx="456.6" cy="306.2" r="1.35"/><circle cx="458.4" cy="306.2" r="1.35"/><circle cx="460.2" cy="306.3" r="1.35"/><circle cx="461.9" cy="306.3" r="1.35"/><circle cx="463.7" cy="306.3" r="1.35"/><circle cx="465.5" cy="306.3" r="1.35"/><circle cx="467.3" cy="306.4" r="1.35"/><circle cx="469.0" cy="306.4" r="1.35"/><circle cx="470.8" cy="306.4" r="1.35"/><circle cx="472.6" cy="306.5" r="1.35"/><circle cx="474.4" cy="306.5" r="1.35"/><circle cx="476.2" cy="306.5" r="1.35"/><circle cx="477.9" cy="306.6" r="1.35"/><circle cx="479.7" cy="306.6" r="1.35"/><circle cx="481.5" cy="306.6" r="1.35"/><circle cx="483.3" cy="306.7" r="1.35"/><circle cx="485.0" cy="306.7" r="1.35"/><circle cx="486.8" cy="306.7" r="1.35"/><circle cx="488.6" cy="306.7" r="1.35"/><circle cx="490.4" cy="306.8" r="1.35"/><circle cx="492.2" cy="306.8" r="1.35"/><circle cx="493.9" cy="306.8" r="1.35"/><circle cx="495.7" cy="306.8" r="1.35"/><circle cx="497.5" cy="306.9" r="1.35"/><circle cx="499.3" cy="306.9" r="1.35"/><circle cx="501.1" cy="306.9" r="1.35"/><circle cx="502.8" cy="306.9" r="1.35"/><circle cx="504.6" cy="306.9" r="1.35"/><circle cx="506.4" cy="307.0" r="1.35"/><circle cx="508.2" cy="307.0" r="1.35"/><circle cx="509.9" cy="307.0" r="1.35"/><circle cx="511.7" cy="307.1" r="1.35"/><circle cx="513.5" cy="307.1" r="1.35"/><circle cx="515.3" cy="307.1" r="1.35"/><circle cx="517.1" cy="307.1" r="1.35"/><circle cx="518.8" cy="307.2" r="1.35"/><circle cx="520.6" cy="307.2" r="1.35"/><circle cx="522.4" cy="307.2" r="1.35"/><circle cx="524.2" cy="307.3" r="1.35"/><circle cx="525.9" cy="307.3" r="1.35"/><circle cx="527.7" cy="307.3" r="1.35"/><circle cx="529.5" cy="307.4" r="1.35"/><circle cx="531.3" cy="307.4" r="1.35"/><circle cx="533.1" cy="307.5" r="1.35"/><circle cx="534.8" cy="307.5" r="1.35"/><circle cx="536.6" cy="307.6" r="1.35"/><circle cx="538.4" cy="307.6" r="1.35"/><circle cx="540.2" cy="307.7" r="1.35"/><circle cx="542.0" cy="307.8" r="1.35"/><circle cx="543.7" cy="307.9" r="1.35"/><circle cx="545.5" cy="308.0" r="1.35"/><circle cx="547.3" cy="308.3" r="1.35"/><circle cx="549.1" cy="308.6" r="1.35"/><circle cx="550.8" cy="309.0" r="1.35"/><circle cx="552.6" cy="309.6" r="1.35"/><circle cx="554.4" cy="309.9" r="1.35"/><circle cx="556.2" cy="309.0" r="1.35"/><circle cx="558.0" cy="307.4" r="1.35"/><circle cx="559.7" cy="305.2" r="1.35"/><circle cx="561.5" cy="304.1" r="1.35"/><circle cx="563.3" cy="303.3" r="1.35"/><circle cx="565.1" cy="302.6" r="1.35"/><circle cx="566.8" cy="302.0" r="1.35"/><circle cx="568.6" cy="301.7" r="1.35"/><circle cx="570.4" cy="301.5" r="1.35"/><circle cx="572.2" cy="301.4" r="1.35"/><circle cx="574.0" cy="301.3" r="1.35"/><circle cx="575.7" cy="301.2" r="1.35"/><circle cx="577.5" cy="301.1" r="1.35"/><circle cx="579.3" cy="301.1" r="1.35"/><circle cx="581.1" cy="301.1" r="1.35"/><circle cx="582.8" cy="301.1" r="1.35"/><circle cx="584.6" cy="301.1" r="1.35"/><circle cx="586.4" cy="301.2" r="1.35"/><circle cx="588.2" cy="301.2" r="1.35"/><circle cx="590.0" cy="301.3" r="1.35"/><circle cx="591.7" cy="301.3" r="1.35"/><circle cx="593.5" cy="301.4" r="1.35"/><circle cx="595.3" cy="301.5" r="1.35"/><circle cx="597.1" cy="301.5" r="1.35"/><circle cx="598.9" cy="301.6" r="1.35"/><circle cx="600.6" cy="301.7" r="1.35"/><circle cx="602.4" cy="301.7" r="1.35"/><circle cx="604.2" cy="301.8" r="1.35"/><circle cx="606.0" cy="301.9" r="1.35"/><circle cx="607.7" cy="302.0" r="1.35"/><circle cx="609.5" cy="302.0" r="1.35"/><circle cx="611.3" cy="302.1" r="1.35"/><circle cx="613.1" cy="302.2" r="1.35"/><circle cx="614.9" cy="302.3" r="1.35"/><circle cx="616.6" cy="302.4" r="1.35"/><circle cx="618.4" cy="302.5" r="1.35"/><circle cx="620.2" cy="302.6" r="1.35"/>
</g></g>
<rect x="113.4" y="84.75" width="510.20" height="396.85" fill="none" stroke="#000" stroke-width="1.3"/>
<text transform="translate(370.10,44.80) scale(1,0.975)" font-size="36.25" text-anchor="middle">Soil Temperature / 2009-10-08</text>
<text transform="translate(101.00,70.40) scale(1,1.0)" font-size="16">[°C]</text>
<text transform="translate(103.50,91.45) scale(1,0.94)" font-size="20" text-anchor="end">24</text>
<text transform="translate(103.50,223.73) scale(1,0.94)" font-size="20" text-anchor="end">21</text>
<text transform="translate(103.50,356.01) scale(1,0.94)" font-size="20" text-anchor="end">18</text>
<text transform="translate(103.50,488.30) scale(1,0.94)" font-size="20" text-anchor="end">15</text>
<text transform="translate(197.50,507.10) scale(1,0.94)" font-size="20" text-anchor="middle" letter-spacing="0.3">00:00</text>
<text transform="translate(282.85,507.10) scale(1,0.94)" font-size="20" text-anchor="middle" letter-spacing="0.3">00:00</text>
<text transform="translate(368.20,507.10) scale(1,0.94)" font-size="20" text-anchor="middle" letter-spacing="0.3">00:00</text>
<text transform="translate(453.55,507.10) scale(1,0.94)" font-size="20" text-anchor="middle" letter-spacing="0.3">00:00</text>
<text transform="translate(538.90,507.10) scale(1,0.94)" font-size="20" text-anchor="middle" letter-spacing="0.3">00:00</text>
<text transform="translate(155.52,525.80) scale(1,0.94)" font-size="20" text-anchor="middle">Oct-03</text>
<text transform="translate(239.97,525.80) scale(1,0.94)" font-size="20" text-anchor="middle">Oct-04</text>
<text transform="translate(325.32,525.80) scale(1,0.94)" font-size="20" text-anchor="middle">Oct-05</text>
<text transform="translate(410.68,525.80) scale(1,0.94)" font-size="20" text-anchor="middle">Oct-06</text>
<text transform="translate(496.02,525.80) scale(1,0.94)" font-size="20" text-anchor="middle">Oct-07</text>
<text transform="translate(581.38,525.80) scale(1,0.94)" font-size="20" text-anchor="middle">Oct-08</text>
<text transform="translate(369.50,550.80) scale(1,0.96)" font-size="24" text-anchor="middle">(LST)</text>
<rect x="637.8" y="368.3" width="184.6" height="113.3" fill="#fff" stroke="#000" stroke-width="1.15"/>
<line x1="643.4" y1="382.4" x2="654.8" y2="382.4" stroke="#111111" stroke-width="0.4"/>
<circle cx="649.1" cy="382.4" r="1.4" fill="#fff" stroke="#111111" stroke-width="0.65"/>
<text transform="translate(660.30,387.80) scale(1,0.94)" font-size="18">at 1.0 m</text>
<line x1="643.4" y1="410.8" x2="654.8" y2="410.8" stroke="#ff0000" stroke-width="0.4"/>
<circle cx="649.1" cy="410.8" r="1.4" fill="#fff" stroke="#ff0000" stroke-width="0.65"/>
<text transform="translate(660.30,416.15) scale(1,0.94)" font-size="18">at 0.5 m</text>
<line x1="643.4" y1="439.1" x2="654.8" y2="439.1" stroke="#00ff00" stroke-width="0.4"/>
<circle cx="649.1" cy="439.1" r="1.4" fill="#fff" stroke="#00ff00" stroke-width="0.65"/>
<text transform="translate(660.30,444.50) scale(1,0.94)" font-size="18">at 0.1 m</text>
<line x1="643.4" y1="467.4" x2="654.8" y2="467.4" stroke="#0000ff" stroke-width="0.4"/>
<circle cx="649.1" cy="467.4" r="1.4" fill="#fff" stroke="#0000ff" stroke-width="0.65"/>
<text transform="translate(660.30,472.85) scale(1,0.94)" font-size="18">at 0.02 m</text>
<text transform="translate(779.60,532.50) scale(1,0.89)" font-size="12.2" text-anchor="end">©TERC, Univ. Tsukuba</text>
<text transform="translate(822.80,548.70) scale(1,0.88)" font-size="14" text-anchor="end">Observed at TERC Tower site</text>
<text transform="translate(822.80,565.50) scale(1,0.88)" font-size="14" text-anchor="end">Created Automatically at 2009-10-08/23:32:02</text>
<text transform="translate(822.80,582.10) scale(1,0.88)" font-size="14" text-anchor="end">Data source : /home/hojyo/new/TERC-data/sorted_data/MET.30m.dat</text>
<g transform="translate(785,503.9)">
<rect x="0" y="0" width="34" height="34" fill="#0066ff"/>
<ellipse cx="17.2" cy="0" rx="6.1" ry="6" fill="#fff"/>
<path d="M17 8 C16.2 10.5 14 13 14 15.5 A3 3 0 0 0 20 15.5 C20 13 17.8 10.5 17 8 Z" fill="#fff"/>
<path d="M0 11.5 C5 19 11 21.5 17 21.5 C23 21.5 29 19 34 11.5" fill="none" stroke="#fff" stroke-width="0.9"/>
<path d="M0 16.3 C5 22.5 11 24.3 17 24.3 C23 24.3 29 22.5 34 16.3" fill="none" stroke="#fff" stroke-width="0.9"/>
<text x="3.9 11.7 21.2 30.6" y="33.2" font-family="'Liberation Sans', sans-serif" font-weight="bold" font-size="8.6" text-anchor="middle" style="fill:#fff;stroke:#fff;stroke-width:0.15px">TERC</text>
</g>
</svg>
</body>
</html>
